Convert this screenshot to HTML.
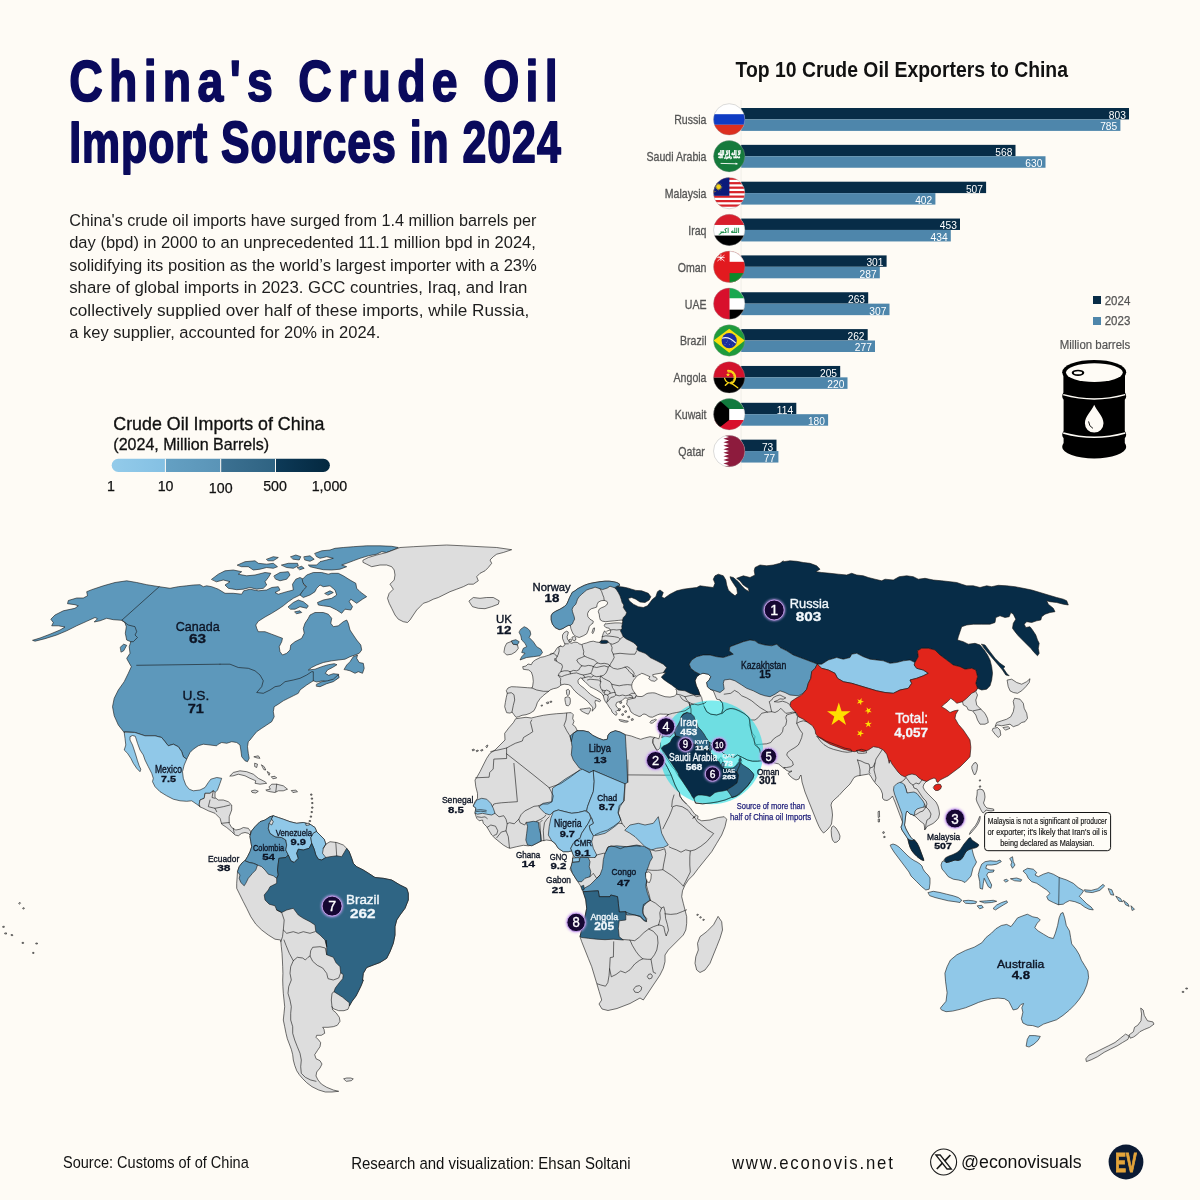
<!DOCTYPE html>
<html lang="en">
<head>
<meta charset="utf-8">
<title>China's Crude Oil Import Sources in 2024</title>
<style>
html,body{margin:0;padding:0;background:#fefbf5;}
body{width:1200px;height:1200px;overflow:hidden;font-family:"Liberation Sans", sans-serif;}
svg{display:block;font-family:"Liberation Sans", sans-serif;}
</style>
</head>
<body>
<svg width="1200" height="1200" viewBox="0 0 1200 1200">
<rect width="1200" height="1200" fill="#fefbf5"/>
<g id="title">
<text transform="translate(69.2 100.8) scale(0.8 1)" font-size="58" fill="#0a0a5c" font-weight="bold" textLength="610.6" lengthAdjust="spacing" stroke="#0a0a5c" stroke-width="1.7" stroke-linejoin="round">China's Crude Oil</text>
<text transform="translate(69.2 162.0) scale(0.75 1)" font-size="57" fill="#0a0a5c" font-weight="bold" textLength="655.3" lengthAdjust="spacing" stroke="#0a0a5c" stroke-width="1.9" stroke-linejoin="round">Import Sources in 2024</text>
</g>
<g id="intro">
<text x="69.2" y="225.8" font-size="17.2" fill="#1d1d1d" textLength="467.2" lengthAdjust="spacingAndGlyphs">China's crude oil imports have surged from 1.4 million barrels per</text>
<text x="69.2" y="248.3" font-size="17.2" fill="#1d1d1d" textLength="466.7" lengthAdjust="spacingAndGlyphs">day (bpd) in 2000 to an unprecedented 11.1 million bpd in 2024,</text>
<text x="69.2" y="270.8" font-size="17.2" fill="#1d1d1d" textLength="467.7" lengthAdjust="spacingAndGlyphs">solidifying its position as the world’s largest importer with a 23%</text>
<text x="69.2" y="293.4" font-size="17.2" fill="#1d1d1d" textLength="458.2" lengthAdjust="spacingAndGlyphs">share of global imports in 2023. GCC countries, Iraq, and Iran</text>
<text x="69.2" y="315.9" font-size="17.2" fill="#1d1d1d" textLength="460.2" lengthAdjust="spacingAndGlyphs">collectively supplied over half of these imports, while Russia,</text>
<text x="69.2" y="338.4" font-size="17.2" fill="#1d1d1d" textLength="311.2" lengthAdjust="spacingAndGlyphs">a key supplier, accounted for 20% in 2024.</text>
</g>
<g id="legend">
<text x="113.3" y="430.3" font-size="18.4" fill="#111" textLength="211.2" lengthAdjust="spacingAndGlyphs" stroke="#111" stroke-width="0.35">Crude Oil Imports of China</text>
<text x="113.3" y="449.7" font-size="16.6" fill="#111" textLength="155.9" lengthAdjust="spacingAndGlyphs" stroke="#111" stroke-width="0.3">(2024, Million Barrels)</text>
<defs><clipPath id="lgclip"><rect x="111.7" y="458.8" width="218.2" height="13.1" rx="6.55"/></clipPath><linearGradient id="lg1"><stop offset="0" stop-color="#93cbea"/><stop offset="1" stop-color="#84c0e3"/></linearGradient><linearGradient id="lg2"><stop offset="0" stop-color="#64a0c3"/><stop offset="1" stop-color="#5a94b7"/></linearGradient><linearGradient id="lg3"><stop offset="0" stop-color="#3c7192"/><stop offset="1" stop-color="#2f6382"/></linearGradient><linearGradient id="lg4"><stop offset="0" stop-color="#0d3a58"/><stop offset="1" stop-color="#04283f"/></linearGradient></defs>
<g clip-path="url(#lgclip)"><rect x="111" y="458" width="54.4" height="15" fill="url(#lg1)"/><rect x="165.4" y="458" width="55.3" height="15" fill="url(#lg2)"/><rect x="220.7" y="458" width="54.8" height="15" fill="url(#lg3)"/><rect x="275.5" y="458" width="55" height="15" fill="url(#lg4)"/><rect x="164.9" y="458" width="1" height="15" fill="#fefbf5"/><rect x="220.2" y="458" width="1" height="15" fill="#fefbf5"/><rect x="275" y="458" width="1" height="15" fill="#fefbf5"/></g>
<text x="111.0" y="491.0" font-size="14.2" fill="#111" text-anchor="middle" stroke="#111" stroke-width="0.25">1</text>
<text x="165.6" y="491.0" font-size="14.2" fill="#111" text-anchor="middle" stroke="#111" stroke-width="0.25">10</text>
<text x="220.7" y="493.3" font-size="14.2" fill="#111" text-anchor="middle" stroke="#111" stroke-width="0.25">100</text>
<text x="275.0" y="491.0" font-size="14.2" fill="#111" text-anchor="middle" stroke="#111" stroke-width="0.25">500</text>
<text x="329.5" y="491.0" font-size="14.2" fill="#111" text-anchor="middle" stroke="#111" stroke-width="0.25">1,000</text>
</g>
<g id="chart">
<text x="735.5" y="77.0" font-size="21.6" fill="#111" font-weight="bold" textLength="332.5" lengthAdjust="spacingAndGlyphs">Top 10 Crude Oil Exporters to China</text>
<rect x="740.6" y="100" width="1" height="370" fill="#f1eee8"/>
<rect x="741.2" y="108.00" width="387.8" height="11.4" fill="#072c47"/>
<rect x="741.2" y="119.40" width="379.2" height="11.5" fill="#4e86ab"/>
<text transform="translate(1125.8 118.8) scale(0.88 1)" font-size="11.6" fill="#fff" text-anchor="end">803</text>
<text transform="translate(1117.2 130.3) scale(0.88 1)" font-size="11.6" fill="#fff" text-anchor="end">785</text>
<text transform="translate(706.5 124.3) scale(0.84 1)" font-size="12.6" fill="#555" text-anchor="end" stroke="#555" stroke-width="0.3">Russia</text>
<clipPath id="fc1"><circle cx="729.2" cy="119.40" r="15.7"/></clipPath><g clip-path="url(#fc1)"><rect x="712.50" y="102.70" width="33.40" height="33.40" fill="#ffffff"/><rect x="712.50" y="114.20" width="33.40" height="10.60" fill="#0f3cc4"/><rect x="712.50" y="124.80" width="33.40" height="15.70" fill="#dd2f1f"/></g><circle cx="729.2" cy="119.40" r="15.7" fill="none" stroke="#9a9a9a" stroke-width="0.5" opacity="0.7"/>
<rect x="741.2" y="144.85" width="274.3" height="11.4" fill="#072c47"/>
<rect x="741.2" y="156.25" width="304.3" height="11.5" fill="#4e86ab"/>
<text transform="translate(1012.3 155.7) scale(0.88 1)" font-size="11.6" fill="#fff" text-anchor="end">568</text>
<text transform="translate(1042.3 167.2) scale(0.88 1)" font-size="11.6" fill="#fff" text-anchor="end">630</text>
<text transform="translate(706.5 161.2) scale(0.84 1)" font-size="12.6" fill="#555" text-anchor="end" stroke="#555" stroke-width="0.3">Saudi Arabia</text>
<clipPath id="fc2"><circle cx="729.2" cy="156.25" r="15.7"/></clipPath><g clip-path="url(#fc2)"><rect x="712.50" y="139.55" width="33.40" height="33.40" fill="#157a3c"/><text x="729.2" y="154.7" font-family="'DejaVu Sans',sans-serif" font-size="6.2" font-weight="bold" fill="#fff" text-anchor="middle" textLength="23" lengthAdjust="spacingAndGlyphs" direction="rtl" stroke="#fff" stroke-width="0.5">لا إله إلا الله</text><text x="729.2" y="158.2" font-family="'DejaVu Sans',sans-serif" font-size="4.2" font-weight="bold" fill="#fff" text-anchor="middle" textLength="22" lengthAdjust="spacingAndGlyphs" direction="rtl" stroke="#fff" stroke-width="0.4">محمد رسول الله</text><path d="M720.6 163.4 L736.4 163.8" stroke="#fff" stroke-width="0.9" fill="none"/><path d="M735.6 162.6 L738.2 164.1 L735.6 164.8Z" fill="#fff"/></g><circle cx="729.2" cy="156.25" r="15.7" fill="none" stroke="#9a9a9a" stroke-width="0.5" opacity="0.7"/>
<rect x="741.2" y="181.70" width="244.9" height="11.4" fill="#072c47"/>
<rect x="741.2" y="193.10" width="194.2" height="11.5" fill="#4e86ab"/>
<text transform="translate(982.9 192.5) scale(0.88 1)" font-size="11.6" fill="#fff" text-anchor="end">507</text>
<text transform="translate(932.2 204.0) scale(0.88 1)" font-size="11.6" fill="#fff" text-anchor="end">402</text>
<text transform="translate(706.5 198.0) scale(0.84 1)" font-size="12.6" fill="#555" text-anchor="end" stroke="#555" stroke-width="0.3">Malaysia</text>
<clipPath id="fc3"><circle cx="729.2" cy="193.10" r="15.7"/></clipPath><g clip-path="url(#fc3)"><rect x="712.50" y="176.40" width="33.40" height="33.40" fill="#ffffff"/><rect x="712.50" y="177.60" width="33.40" height="2.24" fill="#d8232a"/><rect x="712.50" y="182.08" width="33.40" height="2.24" fill="#d8232a"/><rect x="712.50" y="186.56" width="33.40" height="2.24" fill="#d8232a"/><rect x="712.50" y="191.04" width="33.40" height="2.24" fill="#d8232a"/><rect x="712.50" y="195.52" width="33.40" height="2.24" fill="#d8232a"/><rect x="712.50" y="200.00" width="33.40" height="2.24" fill="#d8232a"/><rect x="712.50" y="204.48" width="33.40" height="2.24" fill="#d8232a"/><rect x="712.50" y="208.96" width="33.40" height="2.24" fill="#d8232a"/><rect x="712.50" y="176.40" width="16.90" height="19.40" fill="#0b1a7a"/><circle cx="712.7" cy="186.8" r="5.6" fill="#f7d417"/><circle cx="714.3" cy="186.8" r="4.9" fill="#0b1a7a"/><polygon points="718.60,182.70 719.02,184.95 720.38,183.11 719.78,185.31 721.81,184.24 720.31,185.98 722.60,185.89 720.50,186.80 722.60,187.71 720.31,187.62 721.81,189.36 719.78,188.29 720.38,190.49 719.02,188.65 718.60,190.90 718.18,188.65 716.82,190.49 717.42,188.29 715.39,189.36 716.89,187.62 714.60,187.71 716.70,186.80 714.60,185.89 716.89,185.98 715.39,184.24 717.42,185.31 716.82,183.11 718.18,184.95" fill="#f7d417"/></g><circle cx="729.2" cy="193.10" r="15.7" fill="none" stroke="#9a9a9a" stroke-width="0.5" opacity="0.7"/>
<rect x="741.2" y="218.55" width="218.8" height="11.4" fill="#072c47"/>
<rect x="741.2" y="229.95" width="209.6" height="11.5" fill="#4e86ab"/>
<text transform="translate(956.8 229.4) scale(0.88 1)" font-size="11.6" fill="#fff" text-anchor="end">453</text>
<text transform="translate(947.6 240.9) scale(0.88 1)" font-size="11.6" fill="#fff" text-anchor="end">434</text>
<text transform="translate(706.5 234.9) scale(0.84 1)" font-size="12.6" fill="#555" text-anchor="end" stroke="#555" stroke-width="0.3">Iraq</text>
<clipPath id="fc4"><circle cx="729.2" cy="229.95" r="15.7"/></clipPath><g clip-path="url(#fc4)"><rect x="712.50" y="213.25" width="33.40" height="33.40" fill="#ffffff"/><rect x="712.50" y="213.25" width="33.40" height="11.70" fill="#d81e2c"/><rect x="712.50" y="235.55" width="33.40" height="15.70" fill="#000000"/><text x="729.2" y="232.7" font-family="'DejaVu Sans',sans-serif" font-size="7" font-weight="bold" fill="#168a42" text-anchor="middle" textLength="20.5" lengthAdjust="spacingAndGlyphs" direction="rtl">الله اكبر</text></g><circle cx="729.2" cy="229.95" r="15.7" fill="none" stroke="#9a9a9a" stroke-width="0.5" opacity="0.7"/>
<rect x="741.2" y="255.40" width="145.4" height="11.4" fill="#072c47"/>
<rect x="741.2" y="266.80" width="138.6" height="11.5" fill="#4e86ab"/>
<text transform="translate(883.4 266.2) scale(0.88 1)" font-size="11.6" fill="#fff" text-anchor="end">301</text>
<text transform="translate(876.6 277.7) scale(0.88 1)" font-size="11.6" fill="#fff" text-anchor="end">287</text>
<text transform="translate(706.5 271.7) scale(0.84 1)" font-size="12.6" fill="#555" text-anchor="end" stroke="#555" stroke-width="0.3">Oman</text>
<clipPath id="fc5"><circle cx="729.2" cy="266.80" r="15.7"/></clipPath><g clip-path="url(#fc5)"><rect x="712.50" y="250.10" width="33.40" height="33.40" fill="#e21a1f"/><rect x="729.60" y="250.10" width="16.70" height="11.70" fill="#ffffff"/><rect x="729.60" y="273.10" width="16.70" height="15.70" fill="#0a8a2a"/><g stroke="#fff" stroke-width="0.8" fill="none" stroke-linecap="round"><path d="M717.7 260.8 L724.1 255.4"/><path d="M724.1 260.8 L717.7 255.4"/><path d="M717.5 257.6 L724.3 257.6"/><path d="M720.9 254.8 L720.9 260.4"/></g></g><circle cx="729.2" cy="266.80" r="15.7" fill="none" stroke="#9a9a9a" stroke-width="0.5" opacity="0.7"/>
<rect x="741.2" y="292.25" width="127.0" height="11.4" fill="#072c47"/>
<rect x="741.2" y="303.65" width="148.3" height="11.5" fill="#4e86ab"/>
<text transform="translate(865.0 303.0) scale(0.88 1)" font-size="11.6" fill="#fff" text-anchor="end">263</text>
<text transform="translate(886.3 314.5) scale(0.88 1)" font-size="11.6" fill="#fff" text-anchor="end">307</text>
<text transform="translate(706.5 308.5) scale(0.84 1)" font-size="12.6" fill="#555" text-anchor="end" stroke="#555" stroke-width="0.3">UAE</text>
<clipPath id="fc6"><circle cx="729.2" cy="303.65" r="15.7"/></clipPath><g clip-path="url(#fc6)"><rect x="712.50" y="286.95" width="33.40" height="33.40" fill="#ffffff"/><rect x="729.20" y="286.95" width="16.70" height="11.30" fill="#19a84f"/><rect x="729.20" y="309.65" width="16.70" height="15.70" fill="#000000"/><rect x="712.50" y="286.95" width="17.00" height="33.40" fill="#d8102c"/></g><circle cx="729.2" cy="303.65" r="15.7" fill="none" stroke="#9a9a9a" stroke-width="0.5" opacity="0.7"/>
<rect x="741.2" y="329.10" width="126.5" height="11.4" fill="#072c47"/>
<rect x="741.2" y="340.50" width="133.8" height="11.5" fill="#4e86ab"/>
<text transform="translate(864.5 339.9) scale(0.88 1)" font-size="11.6" fill="#fff" text-anchor="end">262</text>
<text transform="translate(871.8 351.4) scale(0.88 1)" font-size="11.6" fill="#fff" text-anchor="end">277</text>
<text transform="translate(706.5 345.4) scale(0.84 1)" font-size="12.6" fill="#555" text-anchor="end" stroke="#555" stroke-width="0.3">Brazil</text>
<clipPath id="fc7"><circle cx="729.2" cy="340.50" r="15.7"/></clipPath><g clip-path="url(#fc7)"><rect x="712.50" y="323.80" width="33.40" height="33.40" fill="#1f9b3c"/><polygon points="713.6,340.5 729.2,328.7 744.8,340.5 729.2,352.7" fill="#fadf0c"/><circle cx="729.2" cy="340.7" r="7.6" fill="#1c2f9e"/><path d="M722.0 338.3 Q728.7 335.9 735.8 343.1" stroke="#e9eef7" stroke-width="1.2" fill="none"/><circle cx="726.2" cy="342.7" r="0.35" fill="#cfd8f5"/><circle cx="729.7" cy="344.3" r="0.35" fill="#cfd8f5"/><circle cx="732.0" cy="341.5" r="0.35" fill="#cfd8f5"/><circle cx="727.7" cy="340.9" r="0.35" fill="#cfd8f5"/><circle cx="725.0" cy="344.7" r="0.35" fill="#cfd8f5"/><circle cx="732.7" cy="345.0" r="0.35" fill="#cfd8f5"/></g><circle cx="729.2" cy="340.50" r="15.7" fill="none" stroke="#9a9a9a" stroke-width="0.5" opacity="0.7"/>
<rect x="741.2" y="365.95" width="99.0" height="11.4" fill="#072c47"/>
<rect x="741.2" y="377.35" width="106.3" height="11.5" fill="#4e86ab"/>
<text transform="translate(837.0 376.8) scale(0.88 1)" font-size="11.6" fill="#fff" text-anchor="end">205</text>
<text transform="translate(844.3 388.2) scale(0.88 1)" font-size="11.6" fill="#fff" text-anchor="end">220</text>
<text transform="translate(706.5 382.2) scale(0.84 1)" font-size="12.6" fill="#555" text-anchor="end" stroke="#555" stroke-width="0.3">Angola</text>
<clipPath id="fc8"><circle cx="729.2" cy="377.35" r="15.7"/></clipPath><g clip-path="url(#fc8)"><rect x="712.50" y="360.65" width="33.40" height="17.00" fill="#d3122c"/><rect x="712.50" y="377.65" width="33.40" height="16.70" fill="#000000"/><g fill="none" stroke="#f9d616" stroke-linecap="round"><path d="M728.0 370.8 A6.6 6.6 0 0 1 730.8 383.6" stroke-width="1.9" stroke-dasharray="1.5 0.6"/><path d="M728.2 372.0 A5.4 5.4 0 0 1 730.4 382.5" stroke-width="0.9" stroke="#f9d616"/><path d="M724.6 378.4 Q725.8 383.0 731.4 383.2 L737.8 387.8" stroke-width="1.3"/><path d="M725.4 385.2 L728.2 382.8" stroke-width="1.5"/></g><polygon points="728.00,372.45 728.52,374.04 730.19,374.04 728.84,375.02 729.35,376.61 728.00,375.63 726.65,376.61 727.16,375.02 725.81,374.04 727.48,374.04" fill="#f9d616"/></g><circle cx="729.2" cy="377.35" r="15.7" fill="none" stroke="#9a9a9a" stroke-width="0.5" opacity="0.7"/>
<rect x="741.2" y="402.80" width="55.1" height="11.4" fill="#072c47"/>
<rect x="741.2" y="414.20" width="86.9" height="11.5" fill="#4e86ab"/>
<text transform="translate(793.1 413.6) scale(0.88 1)" font-size="11.6" fill="#fff" text-anchor="end">114</text>
<text transform="translate(824.9 425.1) scale(0.88 1)" font-size="11.6" fill="#fff" text-anchor="end">180</text>
<text transform="translate(706.5 419.1) scale(0.84 1)" font-size="12.6" fill="#555" text-anchor="end" stroke="#555" stroke-width="0.3">Kuwait</text>
<clipPath id="fc9"><circle cx="729.2" cy="414.20" r="15.7"/></clipPath><g clip-path="url(#fc9)"><rect x="712.50" y="397.50" width="33.40" height="33.40" fill="#ffffff"/><rect x="712.50" y="397.50" width="33.40" height="11.50" fill="#117a3d"/><rect x="712.50" y="420.00" width="33.40" height="15.70" fill="#d8102c"/><polygon points="712.5,397.5 719.0,397.5 719.0,400.0 729.2,409.0 729.2,420.0 719.2,427.8 719.2,430.9 712.5,430.9" fill="#000"/></g><circle cx="729.2" cy="414.20" r="15.7" fill="none" stroke="#9a9a9a" stroke-width="0.5" opacity="0.7"/>
<rect x="741.2" y="439.65" width="35.3" height="11.4" fill="#072c47"/>
<rect x="741.2" y="451.05" width="37.2" height="11.5" fill="#4e86ab"/>
<text transform="translate(773.3 450.5) scale(0.88 1)" font-size="11.6" fill="#fff" text-anchor="end">73</text>
<text transform="translate(775.2 462.0) scale(0.88 1)" font-size="11.6" fill="#fff" text-anchor="end">77</text>
<text transform="translate(704.8 456.0) scale(0.84 1)" font-size="12.6" fill="#555" text-anchor="end" stroke="#555" stroke-width="0.3">Qatar</text>
<clipPath id="fc10"><circle cx="729.2" cy="451.05" r="15.7"/></clipPath><g clip-path="url(#fc10)"><rect x="712.50" y="434.35" width="33.40" height="33.40" fill="#ffffff"/><polygon points="745.9,435.15 723.4,435.15 729.0,436.92 723.4,438.68 729.0,440.45 723.4,442.22 729.0,443.98 723.4,445.75 729.0,447.52 723.4,449.28 729.0,451.05 723.4,452.82 729.0,454.58 723.4,456.35 729.0,458.12 723.4,459.88 729.0,461.65 723.4,463.42 729.0,465.18 723.4,466.95 745.9,466.95" fill="#8d1b3d"/></g><circle cx="729.2" cy="451.05" r="15.7" fill="none" stroke="#9a9a9a" stroke-width="0.5" opacity="0.7"/>
<rect x="1093" y="296" width="8" height="8" fill="#072c47"/>
<rect x="1093" y="317" width="8" height="8" fill="#4e86ab"/>
<text x="1104.7" y="304.7" font-size="12" fill="#555" textLength="25.6" lengthAdjust="spacingAndGlyphs" stroke="#555" stroke-width="0.25">2024</text>
<text x="1104.7" y="325.4" font-size="12" fill="#555" textLength="25.6" lengthAdjust="spacingAndGlyphs" stroke="#555" stroke-width="0.25">2023</text>
<text x="1059.7" y="349.0" font-size="12.6" fill="#555" textLength="70.6" lengthAdjust="spacingAndGlyphs" stroke="#555" stroke-width="0.2">Million barrels</text>
<g id="barrel"><path d="M1063.4 372 L1063.4 392.5 Q1062.2 394.5 1062.2 396.2 Q1062.2 398 1063.6 399.8 L1063.6 431 Q1062.2 433 1062.2 434.8 Q1062.2 436.6 1063.6 438.3 L1063.6 443 Q1062.2 445 1062.2 447 A32 11.4 0 0 0 1126.2 447 Q1126.2 445 1124.8 443 L1124.8 438.3 Q1126.2 436.6 1126.2 434.8 Q1126.2 433 1124.8 431 L1124.8 399.8 Q1126.2 398 1126.2 396.2 Q1126.2 394.5 1125 392.5 L1125 372 Z" fill="#000"/><ellipse cx="1094.2" cy="372.2" rx="32" ry="12.3" fill="#000"/><ellipse cx="1094.4" cy="372.6" rx="28.4" ry="9.3" fill="#fefbf5"/><ellipse cx="1078" cy="372.8" rx="6.3" ry="3.1" fill="#000"/><ellipse cx="1078" cy="372.8" rx="4.1" ry="1.5" fill="#fefbf5"/><path d="M1063.2 394.6 Q1094.2 403.2 1125.2 394.6" fill="none" stroke="#fefbf5" stroke-width="1.5"/><path d="M1063.2 433.0 Q1094.2 441.6 1125.2 433.0" fill="none" stroke="#fefbf5" stroke-width="1.5"/><path d="M1094.2 404.8 C1096.7 411 1103.5 416.5 1103.5 423.3 A9.3 9.3 0 0 1 1084.9 423.3 C1084.9 416.5 1091.7 411 1094.2 404.8 Z" fill="#fefbf5"/><path d="M1088.6000000000001 421.8 Q1089.0 426.6 1092.6000000000001 428.2" fill="none" stroke="#000" stroke-width="0.9" stroke-linecap="round"/></g>
</g>
<g id="map" stroke-linejoin="round" stroke-linecap="round">
<path d="M124.2 732.5L118.3 725.0L114.2 715.8L112.5 706.7L114.2 698.3L118.3 690.0L124.2 681.7L128.3 673.3L131.3 666.7L127.5 660.0L126.7 658.3L130.0 653.3L129.2 646.7L130.8 641.7L126.7 640.0L125.3 633.3L126.3 626.7L124.7 622.0L121.7 620.3L113.3 619.7L106.7 618.3L100.0 620.8L94.2 622.0L97.5 618.7L95.0 617.5L86.7 621.3L76.7 625.8L66.7 630.8L56.7 635.0L45.0 638.7L35.0 641.2L32.5 640.3L40.0 638.0L50.0 634.2L60.0 630.0L65.0 627.0L58.3 625.8L51.7 625.8L53.3 622.5L50.8 619.2L55.0 615.0L63.3 610.8L75.0 608.3L78.3 605.8L75.0 604.7L67.5 603.7L68.3 600.5L76.7 598.0L83.3 598.0L87.5 595.8L86.7 591.7L91.7 589.7L103.3 585.8L115.0 582.5L126.7 580.8L136.7 582.5L146.7 584.7L159.2 586.7L170.0 588.3L178.3 586.7L186.7 585.8L193.3 585.0L200.0 584.7L203.3 586.7L206.7 585.8L211.7 586.7L218.3 589.2L225.0 593.3L233.3 593.3L241.7 594.2L243.7 590.8L250.0 589.2L258.3 590.8L266.7 590.0L271.7 587.5L278.3 586.7L280.0 590.0L275.0 592.5L278.3 594.2L286.7 591.7L293.3 590.0L292.5 584.2L295.8 579.2L300.0 577.5L305.0 580.0L303.3 584.2L306.7 587.5L303.3 590.8L300.0 595.0L293.3 598.3L288.3 601.7L283.3 605.8L278.3 609.2L271.7 613.3L265.0 617.0L258.3 621.3L255.8 625.0L256.7 628.3L258.3 631.7L265.0 631.7L271.7 634.2L278.3 636.7L282.5 638.3L281.7 641.7L279.2 646.7L280.0 651.7L282.5 655.0L286.7 653.3L290.0 650.0L290.8 645.0L295.0 641.7L301.7 638.3L304.2 633.3L303.3 628.3L305.0 623.3L308.3 618.3L310.0 615.0L315.0 612.5L323.3 612.5L328.3 614.2L331.7 618.3L330.8 623.3L333.3 626.7L338.3 625.8L343.3 621.7L346.7 620.0L348.3 623.3L350.0 630.0L353.3 635.0L356.7 640.0L360.8 645.0L361.7 650.0L359.2 653.3L355.0 655.0L350.0 656.7L345.0 659.2L338.3 660.0L331.7 660.8L323.3 662.5L316.7 665.0L311.7 667.5L308.3 670.0L315.0 669.2L321.7 666.7L328.3 664.7L334.2 663.7L337.0 664.7L332.5 667.5L327.5 670.0L325.3 673.3L328.7 675.3L333.3 673.7L338.7 674.3L337.7 678.3L332.0 680.8L326.7 681.7L322.5 680.8L316.7 682.0L313.3 680.8L306.7 685.0L300.0 690.0L298.3 693.3L293.3 695.8L288.3 698.3L283.3 700.8L278.3 704.2L274.2 706.7L273.3 711.7L274.2 716.7L271.7 721.7L266.7 725.0L261.7 728.3L256.7 731.7L253.3 735.8L250.0 740.0L248.3 741.7L247.5 746.7L248.3 753.3L249.2 758.3L247.5 761.7L245.0 760.8L241.7 756.7L240.8 750.0L240.0 745.0L236.7 742.5L231.7 741.7L226.7 743.3L221.7 742.5L218.3 744.2L216.7 745.8L210.0 745.0L203.3 744.2L198.3 745.8L193.3 749.2L190.0 752.5L187.5 757.5L186.7 759.2L183.3 756.7L181.7 751.7L178.3 746.7L173.3 744.2L168.3 745.8L165.0 741.7L161.7 737.5L155.0 735.8L145.0 735.8L135.0 732.5L125.0 731.7Z" fill="#5d98bb" fill-rule="nonzero" stroke="#141414" stroke-width="0.6"/>
<path d="M124.2 732.5L125.0 738.3L125.8 745.0L124.2 750.0L127.5 753.3L130.8 758.3L133.3 763.3L136.7 768.3L140.0 771.7L140.8 769.2L139.2 765.8L137.5 760.8L135.8 755.0L134.2 750.0L132.5 745.0L130.0 740.0L130.0 736.7L132.5 735.5L135.3 736.3L137.5 743.3L140.0 750.0L143.3 755.0L145.0 760.0L148.3 766.7L151.7 773.3L153.3 778.3L152.5 781.7L155.0 786.7L160.0 791.7L166.7 795.8L173.3 799.2L180.0 800.8L186.7 801.3L191.7 800.8L196.7 804.2L200.0 806.7L199.2 804.2L200.0 800.0L204.2 798.3L205.0 793.3L210.0 793.3L213.3 790.8L215.0 792.5L217.5 790.0L220.0 783.3L221.7 778.3L216.7 777.5L210.8 779.2L208.3 782.5L205.0 787.5L200.0 790.0L193.3 790.8L189.2 789.2L185.8 785.0L183.3 778.3L182.5 771.7L184.2 765.0L186.7 759.2L183.3 756.7L181.7 751.7L178.3 746.7L173.3 744.2L168.3 745.8L165.0 741.7L161.7 737.5L155.0 735.8L145.0 735.8L135.0 732.5Z" fill="#90c8e8" fill-rule="nonzero" stroke="#141414" stroke-width="0.6"/>
<path d="M200.0 806.7L199.2 804.2L200.0 800.0L204.2 798.3L205.0 793.3L210.0 793.3L213.3 790.8L215.0 792.5L215.0 797.5L218.3 800.0L223.3 800.0L228.3 801.7L231.7 805.0L231.7 810.0L229.2 816.7L229.2 823.3L231.7 827.5L235.8 830.0L240.0 829.2L243.3 827.5L248.3 828.3L250.8 831.7L250.0 835.0L248.3 833.3L245.0 832.5L241.7 833.3L238.3 835.8L235.0 835.0L231.7 831.7L226.7 827.5L221.7 824.2L220.0 818.3L215.0 813.3L208.3 810.8L203.3 808.3Z" fill="#dddddd" fill-rule="nonzero" stroke="#141414" stroke-width="0.6"/>
<path d="M213.3 790.8L212.0 797.5L215.0 798.3" fill="none" stroke="#141414" stroke-width="0.6"/>
<path d="M210.0 800.0L208.3 806.7L215.0 808.3L216.7 811.7" fill="none" stroke="#141414" stroke-width="0.6"/>
<path d="M215.0 808.3L223.3 806.7L230.0 805.0" fill="none" stroke="#141414" stroke-width="0.6"/>
<path d="M221.7 823.3L229.2 822.5" fill="none" stroke="#141414" stroke-width="0.6"/>
<path d="M233.3 828.3L234.2 833.3" fill="none" stroke="#141414" stroke-width="0.6"/>
<path d="M230.0 775.8L233.3 772.5L240.0 770.8L246.7 771.7L253.3 774.2L258.3 778.3L265.0 781.7L266.7 783.3L260.0 784.2L255.0 783.3L255.8 780.8L250.0 778.3L245.0 775.8L238.3 774.2L233.3 775.8Z" fill="#dddddd" fill-rule="nonzero" stroke="#141414" stroke-width="0.6"/>
<path d="M269.2 786.7L271.7 784.2L276.7 784.2L283.3 785.8L287.5 789.2L283.3 790.8L278.3 790.8L275.0 792.5L270.0 791.7L266.7 790.8L265.8 790.0L270.0 789.2Z" fill="#dddddd" fill-rule="nonzero" stroke="#141414" stroke-width="0.6"/>
<path d="M276.7 784.2L275.8 791.7" fill="none" stroke="#141414" stroke-width="0.6"/>
<path d="M251.7 790.8L255.0 790.0L258.3 791.3L255.8 793.0L252.5 792.5Z" fill="#dddddd" fill-rule="nonzero" stroke="#141414" stroke-width="0.6"/>
<path d="M291.7 790.5L295.8 790.2L297.5 791.7L293.3 792.5Z" fill="#dddddd" fill-rule="nonzero" stroke="#141414" stroke-width="0.6"/>
<path d="M254.2 756.7L258.3 755.8L260.0 758.3L257.5 758.0Z" fill="#dddddd" fill-rule="nonzero" stroke="#141414" stroke-width="0.6"/>
<path d="M255.0 763.3L257.5 764.2L256.7 767.5L255.0 766.7Z" fill="#dddddd" fill-rule="nonzero" stroke="#141414" stroke-width="0.6"/>
<path d="M261.7 765.0L264.2 766.7L265.8 770.0L264.2 769.7Z" fill="#dddddd" fill-rule="nonzero" stroke="#141414" stroke-width="0.6"/>
<path d="M267.5 771.7L270.0 773.3L269.2 775.0Z" fill="#dddddd" fill-rule="nonzero" stroke="#141414" stroke-width="0.6"/>
<path d="M271.7 776.7L275.0 776.3L276.7 778.0L273.3 778.7Z" fill="#dddddd" fill-rule="nonzero" stroke="#141414" stroke-width="0.6"/>
<path d="M211.7 579.2L218.3 574.2L225.0 570.8L233.3 570.0L241.7 571.7L238.3 574.2L246.7 575.8L255.0 575.0L265.0 572.5L270.8 573.3L268.3 577.5L265.0 581.7L266.7 585.0L263.3 588.3L256.7 589.2L250.0 587.5L243.3 589.2L236.7 589.7L228.3 588.3L225.0 585.0L230.0 581.7L223.3 580.0L216.7 581.7Z" fill="#5d98bb" fill-rule="nonzero" stroke="#141414" stroke-width="0.6"/>
<path d="M237.5 565.0L245.0 561.7L255.0 560.8L258.3 563.3L266.7 564.2L273.3 563.3L277.5 566.7L273.3 568.3L266.7 567.5L260.0 569.2L253.3 570.0L248.3 566.7L241.7 566.7Z" fill="#5d98bb" fill-rule="nonzero" stroke="#141414" stroke-width="0.6"/>
<path d="M266.7 559.2L273.3 556.7L278.3 557.5L273.3 560.8L268.3 560.8Z" fill="#5d98bb" fill-rule="nonzero" stroke="#141414" stroke-width="0.6"/>
<path d="M290.8 556.7L295.8 555.0L300.8 556.7L299.2 560.0L293.3 559.2Z" fill="#5d98bb" fill-rule="nonzero" stroke="#141414" stroke-width="0.6"/>
<path d="M281.7 565.0L288.3 563.3L297.5 563.3L298.3 565.8L293.3 568.3L286.7 567.5Z" fill="#5d98bb" fill-rule="nonzero" stroke="#141414" stroke-width="0.6"/>
<path d="M304.2 556.7L310.0 555.8L314.2 559.2L310.0 561.3L305.0 560.0Z" fill="#5d98bb" fill-rule="nonzero" stroke="#141414" stroke-width="0.6"/>
<path d="M297.5 567.5L301.7 566.3L304.2 568.3L300.0 569.7Z" fill="#5d98bb" fill-rule="nonzero" stroke="#141414" stroke-width="0.6"/>
<path d="M315.0 553.3L321.7 550.8L330.0 550.0L335.0 548.3L343.3 547.5L353.3 546.7L366.7 545.8L380.0 545.8L391.7 546.3L398.3 547.5L393.3 550.0L386.7 552.5L381.7 551.7L376.7 554.2L368.3 555.8L360.0 558.3L353.3 560.8L346.7 563.3L341.7 565.0L346.7 566.7L340.0 569.2L331.7 570.0L323.3 569.7L316.7 568.3L310.0 566.7L308.3 565.0L316.7 565.0L320.0 561.7L326.7 560.0L333.3 558.3L326.7 556.7L320.0 558.3L316.7 556.7Z" fill="#5d98bb" fill-rule="nonzero" stroke="#141414" stroke-width="0.6"/>
<path d="M302.5 579.2L306.7 575.0L313.3 572.5L321.7 572.5L328.3 574.2L331.7 573.3L338.3 573.3L343.3 575.8L350.0 580.0L355.8 583.3L356.7 588.3L360.0 591.7L366.7 596.7L362.5 599.2L356.7 603.3L350.8 599.2L349.2 601.7L352.5 606.7L350.8 610.0L345.0 609.2L341.7 613.3L336.7 610.0L330.0 606.7L323.3 605.8L318.3 605.0L317.5 602.5L323.3 600.0L331.7 598.3L336.7 595.0L335.0 590.0L330.0 585.8L323.3 586.7L320.0 585.0L316.7 588.3L315.0 591.7L310.0 595.0L303.3 597.5L300.0 595.0L303.3 590.0L306.7 586.7L303.3 583.3Z" fill="#5d98bb" fill-rule="nonzero" stroke="#141414" stroke-width="0.6"/>
<path d="M274.2 575.8L280.0 572.5L288.3 571.7L290.0 575.0L286.7 579.2L280.0 580.8L275.8 579.2Z" fill="#5d98bb" fill-rule="nonzero" stroke="#141414" stroke-width="0.6"/>
<path d="M288.3 606.7L293.3 602.5L298.3 600.0L303.3 601.7L308.3 605.8L306.7 608.3L300.0 606.7L295.0 609.2L290.8 609.2Z" fill="#5d98bb" fill-rule="nonzero" stroke="#141414" stroke-width="0.6"/>
<path d="M295.0 611.7L300.0 610.8L301.7 612.5L296.7 613.7Z" fill="#5d98bb" fill-rule="nonzero" stroke="#141414" stroke-width="0.6"/>
<path d="M325.0 593.3L330.0 590.8L333.3 592.5L328.3 595.0Z" fill="#5d98bb" fill-rule="nonzero" stroke="#141414" stroke-width="0.6"/>
<path d="M344.2 669.2L346.7 665.0L350.0 661.7L353.3 656.7L357.5 655.0L356.7 658.3L359.2 662.5L363.3 663.3L364.2 668.3L362.5 673.3L358.3 671.7L355.0 673.3L350.0 670.8L346.7 670.0Z" fill="#5d98bb" fill-rule="nonzero" stroke="#141414" stroke-width="0.6"/>
<path d="M316.7 684.2L321.7 681.7L327.5 680.8L333.3 679.2L338.3 674.7L339.2 677.5L333.3 681.7L326.7 683.7L320.0 686.7L316.7 686.3Z" fill="#5d98bb" fill-rule="nonzero" stroke="#141414" stroke-width="0.6"/>
<path d="M120.5 647.0L123.7 644.2L126.7 645.3L123.7 650.8L121.3 652.0Z" fill="#5d98bb" fill-rule="nonzero" stroke="#141414" stroke-width="0.6"/>
<path d="M159.2 586.7L121.7 620.3L128.3 625.0L135.0 626.7L136.7 631.7L135.0 635.0L137.5 637.5L133.3 641.7L130.8 641.7" fill="none" stroke="#141414" stroke-width="0.6"/>
<path d="M136.7 665.3L220.0 664.2" fill="none" stroke="#141414" stroke-width="0.6"/>
<path d="M220.0 664.2L230.0 664.2L238.3 667.5L248.3 668.3L255.0 670.8L260.0 675.0L263.3 680.8L261.7 686.7L256.7 692.5L263.3 693.3L270.0 690.0L275.0 686.7L280.0 685.8L285.0 681.7L293.3 680.0L300.0 678.3L306.7 675.0L311.7 671.7L313.3 671.7L313.3 680.8" fill="none" stroke="#141414" stroke-width="0.6"/>
<path d="M363.3 560.0L368.3 557.5L376.7 555.0L386.7 552.5L400.0 547.5L413.3 546.7L430.0 545.8L446.7 545.0L463.3 545.8L480.0 546.7L496.7 547.5L511.7 549.7L503.3 552.5L496.7 554.2L493.3 556.7L490.0 560.0L491.7 563.3L488.3 567.5L485.0 570.8L480.0 573.3L476.7 576.7L478.3 580.8L473.3 584.2L468.3 584.2L463.3 586.7L456.7 589.2L450.0 591.7L445.0 594.2L438.3 597.5L433.3 599.2L428.3 601.7L423.3 603.3L420.0 606.7L416.7 610.0L413.3 615.0L410.0 620.0L407.5 622.5L403.3 621.7L398.3 619.2L395.0 615.0L391.7 608.3L389.2 603.3L387.5 598.3L389.2 593.3L393.3 589.2L391.7 586.7L390.0 584.2L394.2 580.0L395.0 575.0L394.2 570.0L391.7 566.7L386.7 565.0L380.0 565.0L371.7 566.7L366.7 564.2L363.3 562.5Z" fill="#dddddd" fill-rule="nonzero" stroke="#141414" stroke-width="0.6"/>
<path d="M469.2 600.8L473.3 597.5L480.0 598.3L486.7 597.5L493.3 597.5L499.2 600.8L498.3 604.2L491.7 606.7L485.0 608.7L478.3 608.3L472.5 606.7L470.8 604.2Z" fill="#dddddd" fill-rule="nonzero" stroke="#141414" stroke-width="0.6"/>
<path d="M251.7 830.8L255.0 826.7L260.0 821.7L265.0 820.0L270.0 816.7L273.3 815.8L278.3 817.5L283.3 819.2L290.0 821.7L296.7 823.3L303.3 822.5L310.0 824.2L315.0 827.5L316.7 831.7L320.0 835.0L324.2 839.2L325.8 844.2L330.0 841.7L336.7 842.5L343.3 845.0L346.7 848.3L349.2 851.7L351.7 858.3L353.3 863.3L356.7 866.7L363.3 870.0L370.0 874.2L375.0 877.5L383.3 878.3L391.7 880.0L400.0 885.0L406.7 888.3L408.3 893.3L408.3 900.0L405.0 908.3L400.0 915.0L396.7 920.0L395.0 926.7L395.0 935.0L393.3 943.3L390.0 951.7L386.7 958.3L380.0 962.5L373.3 965.0L366.7 967.5L363.3 973.3L362.5 980.0L363.3 980.0L361.3 985.3L358.7 990.7L356.0 996.0L352.0 1001.3L349.3 1006.0L348.0 1009.3L344.0 1010.7L338.7 1010.7L333.3 1008.7L332.0 1006.7L332.7 1010.0L336.0 1012.7L339.3 1017.3L340.0 1021.3L337.3 1025.3L333.3 1026.7L328.0 1027.3L322.7 1027.3L324.0 1029.3L324.7 1033.3L321.3 1035.3L316.7 1035.3L316.0 1037.3L318.7 1040.0L320.7 1042.7L320.0 1046.7L317.3 1050.7L314.7 1054.7L316.0 1058.7L320.0 1060.7L322.0 1064.0L320.0 1068.0L316.7 1072.0L316.0 1076.0L318.0 1080.0L321.3 1084.0L326.7 1087.3L333.3 1090.0L338.7 1091.3L332.0 1092.0L325.3 1092.0L318.7 1090.0L312.0 1086.7L306.7 1082.7L302.7 1078.7L299.3 1074.7L296.7 1070.7L294.7 1065.3L293.3 1060.0L292.7 1054.7L291.3 1049.3L289.3 1044.0L287.3 1038.7L286.0 1033.3L284.7 1026.7L283.3 1020.0L284.0 1013.3L284.7 1006.7L284.0 1000.0L283.3 993.3L282.9 986.7L282.7 980.0L282.9 973.3L282.7 966.7L282.4 960.0L282.0 953.3L281.3 946.7L280.7 940.0L275.0 939.2L268.3 935.0L261.7 930.0L255.8 924.2L250.8 916.7L246.7 908.3L243.3 901.7L240.0 895.0L236.7 888.3L236.7 883.3L237.5 871.7L239.2 866.7L241.7 863.3L245.0 860.8L247.5 856.7L250.0 851.7L251.7 846.7L250.8 841.7L250.0 836.7Z" fill="#dddddd" fill-rule="nonzero" stroke="#141414" stroke-width="0.6"/>
<path d="M251.7 830.8L255.0 826.7L260.0 821.7L265.0 820.0L270.0 816.7L273.3 815.8L271.7 819.2L269.2 823.3L268.3 828.3L270.0 833.3L275.0 836.7L281.7 837.5L285.8 840.0L286.7 845.0L285.8 850.0L288.3 855.0L285.8 857.5L279.2 858.3L278.3 863.3L277.5 870.0L278.3 875.0L276.7 878.3L273.3 875.8L268.3 874.2L265.0 870.0L261.7 866.7L257.5 865.0L253.3 863.3L249.2 862.5L245.0 860.8L247.5 856.7L250.0 851.7L251.7 846.7L250.8 841.7L250.0 836.7Z" fill="#5d98bb" fill-rule="nonzero" stroke="#141414" stroke-width="0.6"/>
<path d="M245.0 860.8L249.2 862.5L253.3 863.3L257.5 865.0L255.8 870.0L252.5 873.3L248.3 878.3L245.8 883.3L244.2 885.8L240.8 882.5L239.2 878.3L240.0 875.0L237.5 871.7L239.2 866.7L241.7 863.3Z" fill="#5d98bb" fill-rule="nonzero" stroke="#141414" stroke-width="0.6"/>
<path d="M273.3 815.8L278.3 817.5L283.3 819.2L290.0 821.7L296.7 823.3L303.3 822.5L310.0 824.2L315.0 827.5L316.7 831.7L313.3 833.3L310.8 837.5L311.7 843.3L309.2 848.3L303.3 850.0L298.3 849.2L296.7 853.3L298.3 858.3L294.2 862.5L290.8 860.8L288.3 855.0L285.8 850.0L286.7 845.0L285.8 840.0L281.7 837.5L275.0 836.7L270.0 833.3L268.3 828.3L269.2 823.3L271.7 825.0L273.3 821.7L271.7 819.2Z" fill="#90c8e8" fill-rule="nonzero" stroke="#141414" stroke-width="0.6"/>
<path d="M316.7 831.7L320.0 835.0L324.2 839.2L325.8 844.2L323.3 848.3L322.5 853.3L325.8 857.5L321.7 860.0L318.3 859.2L315.8 855.0L314.2 849.2L311.7 843.3L310.8 837.5L313.3 833.3Z" fill="#90c8e8" fill-rule="nonzero" stroke="#141414" stroke-width="0.6"/>
<path d="M279.2 858.3L285.8 857.5L288.3 855.0L290.8 860.8L294.2 862.5L298.3 858.3L296.7 853.3L298.3 849.2L303.3 850.0L309.2 848.3L311.7 843.3L314.2 849.2L315.8 855.0L318.3 859.2L321.7 860.0L325.8 857.5L330.0 856.7L336.7 855.8L341.7 856.7L344.2 852.5L346.7 848.3L349.2 851.7L351.7 858.3L353.3 863.3L356.7 866.7L363.3 870.0L370.0 874.2L375.0 877.5L383.3 878.3L391.7 880.0L400.0 885.0L406.7 888.3L408.3 893.3L408.3 900.0L405.0 908.3L400.0 915.0L396.7 920.0L395.0 926.7L395.0 935.0L393.3 943.3L390.0 951.7L386.7 958.3L380.0 962.5L373.3 965.0L366.7 967.5L363.3 973.3L362.5 980.0L363.3 980.0L361.3 985.3L358.7 990.7L356.0 996.0L352.0 1001.3L349.3 1006.0L349.3 1002.7L346.7 1000.7L342.7 997.3L338.7 994.7L334.0 991.7L335.3 988.0L339.3 982.7L342.7 978.7L343.3 974.7L340.7 972.7L340.0 966.7L336.0 962.7L333.3 957.3L326.7 954.7L326.7 946.7L326.0 940.0L326.7 946.7L325.0 940.0L320.0 935.0L315.8 931.7L315.0 925.0L310.0 921.7L303.3 918.3L298.3 915.0L293.3 908.3L286.7 910.0L281.7 912.5L276.7 910.0L275.0 905.8L269.2 904.2L265.0 900.0L264.2 895.0L268.3 890.0L270.0 886.7L276.7 883.3L276.7 878.3L278.3 875.0L277.5 870.0L278.3 863.3Z" fill="#2f6584" fill-rule="nonzero" stroke="#141414" stroke-width="0.6"/>
<path d="M323.3 848.3L325.8 844.2" fill="none" stroke="#141414" stroke-width="0.6"/>
<path d="M335.8 842.5L336.7 855.8" fill="none" stroke="#141414" stroke-width="0.6"/>
<path d="M276.7 910.0L281.7 912.5L284.2 920.0L283.3 930.0L282.5 936.7L280.8 941.7" fill="none" stroke="#141414" stroke-width="0.6"/>
<path d="M283.3 930.0L286.7 933.3L293.3 931.7L298.3 933.3L303.3 931.7L310.0 933.3L315.0 931.7" fill="none" stroke="#141414" stroke-width="0.6"/>
<path d="M284.0 940.0L286.0 945.3L289.3 953.3L293.3 960.7L290.7 966.7L290.0 973.3L291.3 980.0L288.7 986.7L288.0 993.3L290.0 1000.0L291.3 1006.7L290.7 1013.3L290.7 1020.0L292.7 1026.7L292.7 1033.3L294.7 1040.0L297.3 1046.7L300.0 1053.3L301.3 1060.0L300.7 1066.7L301.3 1073.3L305.3 1077.3L310.7 1080.0L316.0 1081.3" fill="none" stroke="#141414" stroke-width="0.6"/>
<path d="M293.3 960.7L297.3 957.3L302.7 958.0L305.3 960.0L308.0 957.3L310.0 956.0" fill="none" stroke="#141414" stroke-width="0.6"/>
<path d="M326.7 954.7L325.3 948.0L320.0 946.7L312.7 947.3L310.7 950.7L310.0 956.0L312.7 961.3L317.3 965.3L322.7 968.0L326.7 973.3L328.0 978.7L333.3 980.0L338.7 978.0L340.7 972.7" fill="none" stroke="#141414" stroke-width="0.6"/>
<path d="M334.0 991.7L332.0 993.3L331.3 1000.0L332.0 1006.7" fill="none" stroke="#141414" stroke-width="0.6"/>
<path d="M344.0 1078.7L346.7 1078.0L350.7 1078.0L353.3 1078.9L351.3 1080.7L346.7 1081.3Z" fill="#dddddd" fill-rule="nonzero" stroke="#141414" stroke-width="0.6"/>
<path d="M505.0 646.7L506.7 643.3L511.7 641.3L513.3 644.2L517.5 645.0L518.3 648.3L515.8 651.7L511.7 654.2L506.7 655.0L504.2 652.5Z" fill="#dddddd" fill-rule="nonzero" stroke="#141414" stroke-width="0.6"/>
<path d="M520.8 629.2L524.2 626.7L527.5 628.3L530.0 630.8L530.8 634.2L529.2 637.5L533.3 641.7L536.7 646.7L540.8 649.2L542.5 652.5L540.0 655.8L533.3 656.7L526.7 657.5L520.0 660.0L521.7 656.7L525.0 653.3L521.7 652.5L523.3 648.3L526.7 646.7L525.0 643.3L521.7 640.0L520.8 635.8L519.2 632.5Z" fill="#5d98bb" fill-rule="nonzero" stroke="#141414" stroke-width="0.6"/>
<path d="M511.7 640.8L515.8 639.7L519.2 641.7L517.5 644.7L513.3 644.2Z" fill="#5d98bb" fill-rule="nonzero" stroke="#141414" stroke-width="0.6"/>
<path d="M617.9 586.2L619.6 585.4L619.2 583.8L616.7 582.5L613.3 581.7L609.2 581.2L605.0 581.2L600.0 581.7L595.0 582.5L590.8 583.3L587.5 584.2L584.2 585.4L580.8 587.1L577.5 588.8L575.0 590.8L572.1 592.5L571.2 594.6L569.6 597.5L568.3 600.8L566.7 604.2L564.2 606.7L560.0 609.2L555.8 611.2L552.5 613.3L551.2 615.8L551.2 620.0L552.5 624.2L555.0 627.5L559.2 629.6L560.8 629.3L563.3 628.3L565.8 626.7L568.3 625.4L570.4 625.4L570.8 628.3L572.1 631.7L573.3 634.2L575.0 635.8L576.7 636.7L579.2 637.5L583.3 635.8L586.7 633.8L588.3 630.0L589.2 626.7L590.8 624.6L592.9 623.3L593.3 621.2L590.0 619.2L587.9 616.7L587.5 613.8L588.8 610.8L591.2 608.8L594.2 607.9L596.7 607.1L597.1 604.6L598.3 602.1L601.2 600.7L604.2 600.4L606.7 601.2L607.7 602.9L606.7 605.0L604.2 606.7L601.2 607.9L599.2 609.2L598.3 611.7L599.2 614.2L599.6 617.5L600.4 620.0L602.5 621.2L605.8 621.7L610.0 621.2L614.2 620.8L618.3 620.4L622.1 620.0L622.9 621.7L622.5 623.3L619.2 622.9L615.0 622.9L610.8 623.3L606.7 623.8L605.0 623.8L604.2 625.8L605.8 627.5L609.2 628.3L610.8 630.8L610.0 633.3L607.5 634.2L605.8 632.5L604.6 630.8L603.3 633.3L602.5 635.8L602.1 638.3L601.7 640.4L600.0 641.7L600.0 642.5L596.7 642.1L593.3 641.2L590.0 641.7L586.7 642.9L583.3 643.8L581.7 644.6L579.2 643.8L577.5 642.5L575.0 642.1L573.3 642.5L571.7 643.3L569.2 642.5L568.8 640.8L567.5 639.2L567.1 636.7L567.9 634.2L568.3 632.1L566.7 631.2L564.2 632.5L562.5 635.0L562.5 638.3L563.8 641.7L565.0 644.2L564.2 645.8L562.5 646.7L560.0 646.2L557.5 647.5L555.8 650.0L554.2 652.5L551.7 654.2L549.2 655.0L546.7 655.8L544.2 656.7L540.7 657.3L535.3 660.0L532.7 662.0L531.3 664.7L528.0 664.0L526.0 666.0L522.7 666.7L523.3 669.3L528.7 670.0L531.3 672.0L532.7 676.0L533.3 681.3L532.7 686.0L532.0 688.0L527.3 687.7L522.0 687.3L516.7 686.9L511.3 686.7L508.0 688.0L506.3 690.7L507.3 693.3L506.3 697.3L505.3 702.7L504.7 706.7L505.7 710.0L506.7 712.7L510.0 713.1L512.0 712.0L514.0 714.7L516.0 717.3L518.7 716.7L522.0 715.3L526.0 714.7L530.0 713.3L534.0 710.7L536.0 706.7L537.3 702.7L540.0 698.7L542.7 696.0L546.0 693.3L548.7 691.3L550.0 690.0L553.3 688.7L556.7 688.0L559.3 686.7L560.8 685.0L564.2 684.2L568.3 684.6L570.8 685.8L572.5 688.3L575.0 691.2L578.3 694.2L581.7 696.7L585.0 699.2L587.9 701.7L590.0 704.2L591.7 706.2L592.9 707.9L592.1 711.2L594.2 709.2L595.7 707.1L595.8 705.0L595.0 702.5L595.4 700.4L597.1 700.8L599.6 701.7L600.8 700.8L600.0 699.6L597.1 698.3L594.2 696.7L590.8 694.6L587.5 691.7L584.2 688.3L580.8 685.8L578.3 683.3L577.9 680.8L578.8 679.2L580.4 677.9L582.1 678.3L582.9 680.0L585.0 681.7L587.5 684.2L590.0 686.7L593.3 688.3L596.7 690.0L600.0 692.1L602.1 693.8L603.3 695.8L604.2 699.2L605.4 701.7L607.5 704.2L609.2 707.1L611.2 709.6L612.1 712.1L614.2 714.2L616.2 715.4L617.1 713.8L615.8 711.7L617.1 710.4L619.6 710.8L618.8 708.8L616.7 707.1L615.8 705.0L616.7 702.5L619.2 701.7L621.7 700.8L623.3 699.2L625.0 697.9L627.5 698.3L630.0 697.5L632.1 697.9L634.2 698.3L636.7 697.9L637.1 696.2L636.7 695.8L635.0 693.3L633.3 690.8L632.1 688.3L631.7 685.8L632.1 683.3L633.3 680.8L635.0 678.3L636.7 676.7L638.3 675.0L640.4 674.2L641.7 673.3L644.0 674.0L646.7 675.3L650.0 676.7L648.7 678.7L651.3 680.7L654.7 681.3L657.3 679.3L656.0 677.3L653.3 676.7L652.7 674.7L656.0 674.0L660.0 673.3L663.3 672.7L668.0 668.0L655.0 650.0L636.0 632.0L630.0 620.0L632.0 612.0L628.0 604.0L625.0 596.0L621.0 589.0Z" fill="#dddddd" fill-rule="nonzero" stroke="#141414" stroke-width="0.6"/>
<path d="M569.3 639.6L570.8 639.0L571.8 640.2L571.2 641.7L569.8 641.5Z" fill="#dddddd" fill-rule="nonzero" stroke="#141414" stroke-width="0.6"/>
<path d="M572.3 637.1L574.2 636.5L575.8 637.7L575.7 640.0L574.0 640.8L572.7 639.6Z" fill="#dddddd" fill-rule="nonzero" stroke="#141414" stroke-width="0.6"/>
<path d="M592.1 632.1L593.3 628.3L594.6 627.9L594.2 630.8L592.9 633.3Z" fill="#dddddd" fill-rule="nonzero" stroke="#141414" stroke-width="0.6"/>
<path d="M617.9 586.2L619.6 585.4L619.2 583.8L616.7 582.5L613.3 581.7L609.2 581.2L605.0 581.2L600.0 581.7L595.0 582.5L590.8 583.3L587.5 584.2L584.2 585.4L580.8 587.1L577.5 588.8L575.0 590.8L572.1 592.5L571.2 594.6L569.6 597.5L568.3 600.8L566.7 604.2L564.2 606.7L560.0 609.2L555.8 611.2L552.5 613.3L551.2 615.8L551.2 620.0L552.5 624.2L555.0 627.5L559.2 629.6L560.8 629.3L563.3 628.3L565.8 626.7L568.3 625.4L570.4 625.4L570.8 625.0L572.5 623.8L573.3 621.7L574.6 619.2L574.2 616.7L573.3 614.2L572.5 611.7L572.1 609.2L573.3 606.7L575.8 604.2L576.7 601.7L577.5 599.2L579.2 596.7L581.7 594.2L584.2 592.1L586.7 590.0L590.0 588.8L593.3 587.9L595.0 587.1L597.5 587.9L600.0 588.8L602.5 589.6L605.0 588.8L607.5 587.9L610.0 586.2L612.5 587.1L615.0 587.9Z" fill="#5d98bb" fill-rule="nonzero" stroke="#141414" stroke-width="0.6"/>
<path d="M600.0 641.7L601.7 640.4L605.0 640.2L607.5 640.8L608.3 642.3L606.7 643.3L603.3 643.5L600.8 643.3Z" fill="#072c47" fill-rule="nonzero" stroke="#141414" stroke-width="0.6"/>
<path d="M604.2 600.4L603.8 597.5L602.5 594.2L601.7 591.7L600.0 588.8" fill="none" stroke="#141414" stroke-width="0.6"/>
<path d="M606.7 631.2L610.0 630.0L613.3 629.6L616.7 630.0L620.0 629.6L622.5 630.0" fill="none" stroke="#141414" stroke-width="0.6"/>
<path d="M602.1 636.7L605.8 635.8L610.0 636.2L614.2 636.7L618.3 637.5L620.0 639.2L624.2 635.8" fill="none" stroke="#141414" stroke-width="0.6"/>
<path d="M620.0 639.2L618.3 641.7L615.0 643.3L612.5 644.2L610.8 643.8L608.3 642.3" fill="none" stroke="#141414" stroke-width="0.6"/>
<path d="M565.0 643.8L568.3 643.8" fill="none" stroke="#141414" stroke-width="0.6"/>
<path d="M580.4 709.2L583.3 708.8L586.7 708.3L590.0 707.9L590.8 709.2L589.6 712.1L588.3 714.2L585.8 713.3L583.3 712.1L581.2 710.8Z" fill="#dddddd" fill-rule="nonzero" stroke="#141414" stroke-width="0.6"/>
<path d="M565.4 697.5L567.9 696.7L570.0 697.9L570.4 700.8L570.0 704.2L568.3 705.8L566.2 705.4L565.4 702.5L565.0 700.0Z" fill="#dddddd" fill-rule="nonzero" stroke="#141414" stroke-width="0.6"/>
<path d="M566.7 690.0L568.3 689.3L569.6 690.8L569.3 694.2L567.9 695.8L566.7 694.2L566.5 692.1Z" fill="#dddddd" fill-rule="nonzero" stroke="#141414" stroke-width="0.6"/>
<path d="M619.2 719.6L622.5 720.0L625.8 720.8L628.3 721.2L627.5 722.1L624.2 722.1L620.8 721.2Z" fill="#dddddd" fill-rule="nonzero" stroke="#141414" stroke-width="0.6"/>
<path d="M546.7 702.4L548.4 701.9L548.9 703.2L547.3 703.7Z" fill="#dddddd" fill-rule="nonzero" stroke="#141414" stroke-width="0.6"/>
<path d="M550.3 701.3L551.6 701.1L551.9 702.1L550.7 702.4Z" fill="#dddddd" fill-rule="nonzero" stroke="#141414" stroke-width="0.6"/>
<path d="M541.3 705.3L542.3 704.9L542.5 705.9L541.6 706.1Z" fill="#dddddd" fill-rule="nonzero" stroke="#141414" stroke-width="0.6"/>
<path d="M560.8 685.0L560.4 681.7L560.8 678.8L558.3 675.4L559.2 673.3L560.8 671.7L564.2 670.8L567.9 670.8L570.0 671.7" fill="none" stroke="#141414" stroke-width="0.6"/>
<path d="M558.3 675.4L561.7 676.7L564.6 675.4L567.5 674.6L570.4 673.8L570.0 671.7" fill="none" stroke="#141414" stroke-width="0.6"/>
<path d="M560.8 671.7L561.7 669.2L562.5 666.7L561.7 664.2L558.3 662.5L556.7 661.2L555.8 659.2L557.1 656.7L555.8 655.0L554.2 653.8L551.7 653.3L550.0 654.2" fill="none" stroke="#141414" stroke-width="0.6"/>
<path d="M557.1 656.7L558.3 654.2L559.2 650.8L558.8 647.5L560.8 645.4" fill="none" stroke="#141414" stroke-width="0.6"/>
<path d="M556.7 661.2L554.6 660.4L555.0 658.3L555.8 659.2" fill="none" stroke="#141414" stroke-width="0.6"/>
<path d="M582.1 645.0L582.9 648.3L583.8 651.7L583.3 654.2L584.6 656.2L581.7 657.5L578.3 658.8L576.7 660.0L578.3 662.9L580.8 665.0L582.1 665.8L580.0 667.5L579.2 669.6L576.7 670.8L573.3 670.4L570.4 671.7" fill="none" stroke="#141414" stroke-width="0.6"/>
<path d="M584.6 656.2L587.5 657.5L590.8 658.8L594.2 660.0L596.7 662.1L597.5 662.9L600.8 663.8L604.2 663.3L608.3 664.2L609.6 665.8" fill="none" stroke="#141414" stroke-width="0.6"/>
<path d="M582.1 665.8L585.0 666.2L588.3 665.4L591.7 665.8L593.3 666.7L595.4 664.2L597.5 662.9" fill="none" stroke="#141414" stroke-width="0.6"/>
<path d="M593.3 666.7L592.5 669.2L591.7 671.7L590.8 673.3L587.5 674.2L583.3 675.0L580.0 674.2L576.7 672.9L573.3 673.3L570.4 673.8" fill="none" stroke="#141414" stroke-width="0.6"/>
<path d="M593.3 666.7L596.7 667.5L600.0 666.7L604.2 665.8L608.3 667.1L609.6 665.8" fill="none" stroke="#141414" stroke-width="0.6"/>
<path d="M610.8 644.2L612.1 647.5L611.7 650.8L613.3 654.2L614.2 657.5L612.5 660.8L610.8 663.3L609.6 665.8" fill="none" stroke="#141414" stroke-width="0.6"/>
<path d="M613.3 654.2L615.8 653.8L620.0 653.3L625.0 653.8L630.0 654.2L635.0 654.2L636.7 650.8" fill="none" stroke="#141414" stroke-width="0.6"/>
<path d="M609.6 665.8L613.3 668.3L617.5 669.2L621.7 668.3L625.0 667.1L627.5 669.2L630.0 672.5L632.5 674.2L633.3 676.7L635.8 675.8" fill="none" stroke="#141414" stroke-width="0.6"/>
<path d="M625.0 667.1L627.5 666.7L630.0 668.3L632.5 670.8L634.2 673.3L633.3 676.7" fill="none" stroke="#141414" stroke-width="0.6"/>
<path d="M608.3 667.1L607.5 670.0L605.8 673.3L603.3 675.4L600.8 676.2L596.7 676.7L593.3 675.8L590.8 673.3" fill="none" stroke="#141414" stroke-width="0.6"/>
<path d="M600.8 676.2L603.3 678.3L606.7 680.0L610.0 681.7L611.7 684.2L615.0 685.0L619.2 685.8L623.3 685.0L627.5 684.6L631.2 685.0" fill="none" stroke="#141414" stroke-width="0.6"/>
<path d="M583.3 675.0L585.0 677.5L582.1 678.3" fill="none" stroke="#141414" stroke-width="0.6"/>
<path d="M585.0 677.5L588.3 676.7L591.7 677.1L593.3 675.8" fill="none" stroke="#141414" stroke-width="0.6"/>
<path d="M587.5 680.0L590.0 679.2L594.2 679.6L598.3 680.0L600.8 681.7L600.0 685.0L600.8 688.3L602.1 690.0L603.3 692.5" fill="none" stroke="#141414" stroke-width="0.6"/>
<path d="M600.8 681.7L600.0 678.3L600.8 676.2" fill="none" stroke="#141414" stroke-width="0.6"/>
<path d="M611.7 684.2L612.5 687.5L614.2 690.0L615.0 692.5L615.8 695.0L619.2 695.8L622.5 695.0L625.8 695.8L629.2 695.0L632.1 695.8L632.5 697.9" fill="none" stroke="#141414" stroke-width="0.6"/>
<path d="M629.2 695.0L631.7 693.3L635.0 693.3" fill="none" stroke="#141414" stroke-width="0.6"/>
<path d="M603.3 695.8L605.0 694.2L607.5 695.0L608.3 696.7L607.5 700.0L606.7 702.5L608.3 700.8L610.8 697.5L614.2 696.7L615.8 695.0" fill="none" stroke="#141414" stroke-width="0.6"/>
<path d="M607.5 695.0L610.0 693.3L613.3 692.5L615.0 692.5" fill="none" stroke="#141414" stroke-width="0.6"/>
<path d="M602.1 690.0L605.0 690.8L606.7 690.0L610.0 691.7L610.0 693.3" fill="none" stroke="#141414" stroke-width="0.6"/>
<path d="M605.0 690.8L604.2 693.3L605.0 694.2" fill="none" stroke="#141414" stroke-width="0.6"/>
<path d="M507.3 693.3L511.3 692.7L514.0 694.7L514.7 700.0L513.3 705.3L512.0 712.0" fill="none" stroke="#141414" stroke-width="0.6"/>
<path d="M532.0 688.0L536.7 690.0L543.3 691.3L548.7 691.3" fill="none" stroke="#141414" stroke-width="0.6"/>
<path d="M516.0 718.7L520.7 718.0L526.0 717.3L531.3 718.0L536.7 716.7L543.3 715.3L550.0 714.4L556.7 713.7L563.3 713.3L568.7 712.7L571.3 712.7L573.3 714.7L572.7 718.7L574.0 721.3L572.7 724.7L575.3 726.7L577.3 730.7L583.3 730.7L588.7 732.0L592.7 735.3L598.0 738.0L603.3 740.0L607.3 739.3L608.0 735.3L610.0 732.7L615.3 730.7L620.0 732.0L625.3 734.7L631.3 736.0L636.7 738.0L640.7 739.3L644.7 738.0L650.0 736.7L655.0 737.5L653.1 738.8L652.5 742.5L655.0 747.5L658.1 752.5L661.2 757.5L665.0 763.1L667.5 767.5L670.0 772.5L671.2 775.0L673.1 780.0L675.0 785.0L677.5 790.0L679.4 792.5L680.0 796.2L682.5 800.0L686.2 803.8L690.0 807.5L692.5 811.2L695.0 814.4L698.1 816.2L697.5 818.8L701.7 820.8L710.0 820.0L718.3 817.5L724.2 816.7L726.7 819.2L725.0 826.7L721.7 835.0L716.7 843.3L711.7 851.7L705.0 860.0L698.3 868.3L693.3 875.0L688.3 880.0L685.0 885.0L682.5 890.8L681.7 896.7L683.3 903.3L685.0 910.0L686.7 916.7L686.7 923.3L685.8 930.0L683.3 935.0L678.3 940.0L673.3 945.0L668.3 950.0L665.0 955.0L665.0 961.7L663.3 968.3L660.0 975.0L656.7 980.0L653.3 985.0L650.0 990.0L646.7 995.0L643.3 1000.0L640.0 998.0L630.0 1003.5L617.0 1008.5L608.0 1010.5L602.0 1009.0L599.0 1004.0L601.7 1000.0L599.2 991.7L596.7 983.3L594.2 975.0L591.7 966.7L588.3 958.3L585.0 950.0L581.7 941.7L580.0 936.7L580.8 933.3L582.5 926.7L585.0 916.7L586.7 908.3L585.8 900.0L583.3 891.7L582.5 889.2L580.0 885.0L576.7 880.0L572.5 873.3L570.0 869.2L571.7 865.0L572.5 860.0L573.3 855.0L571.7 850.8L568.3 851.7L563.3 851.7L558.3 848.3L555.0 843.3L551.7 840.8L546.7 840.0L541.7 840.8L538.3 842.5L533.3 845.0L528.3 845.8L523.3 845.3L516.7 846.7L510.0 848.3L507.5 847.5L503.3 845.0L499.2 841.7L495.0 838.3L491.7 835.0L489.2 830.8L486.7 826.7L483.3 823.3L482.5 820.0L479.2 820.8L476.7 818.3L475.0 813.3L475.8 808.3L473.3 805.8L475.0 801.7L477.5 798.3L477.5 793.3L475.8 786.7L475.0 780.0L476.7 777.5L480.0 771.7L483.3 765.0L486.7 758.3L490.0 753.3L495.0 750.0L500.0 745.0L505.0 740.0L504.7 733.3L508.7 728.0L513.3 722.7Z" fill="#dddddd" fill-rule="nonzero" stroke="#141414" stroke-width="0.6"/>
<path d="M718.3 916.7L721.7 921.7L722.5 930.0L720.0 938.3L716.7 946.7L713.3 955.0L710.0 963.3L705.0 970.0L700.0 972.5L696.7 970.0L695.0 963.3L695.8 956.7L698.3 950.0L697.5 943.3L700.0 936.7L706.7 931.7L713.3 925.0Z" fill="#dddddd" fill-rule="nonzero" stroke="#141414" stroke-width="0.6"/>
<path d="M577.3 730.7L583.3 730.7L588.7 732.0L592.7 735.3L598.0 738.0L603.3 740.0L607.3 739.3L608.0 735.3L610.0 732.7L615.3 730.7L620.0 732.0L625.3 734.7L626.0 746.7L626.7 760.0L627.3 773.3L627.6 782.4L624.9 784.0L610.0 777.6L594.0 770.7L589.3 772.7L582.0 769.3L579.3 768.0L573.3 760.0L571.3 754.7L572.0 746.7L571.3 741.3L570.0 736.0L573.3 733.3Z" fill="#5d98bb" fill-rule="nonzero" stroke="#141414" stroke-width="0.6"/>
<path d="M539.2 806.7L543.3 803.3L551.7 801.7L552.5 788.3L565.0 779.2L580.0 770.0L582.5 769.3L589.3 772.7L593.5 770.5L594.2 781.7L593.3 791.7L590.0 800.0L587.5 806.7L586.7 810.8L585.0 810.8L578.3 812.5L571.7 813.3L565.0 811.7L558.3 810.0L553.3 811.7L550.0 815.0L545.0 813.3L541.7 810.0Z" fill="#90c8e8" fill-rule="nonzero" stroke="#141414" stroke-width="0.6"/>
<path d="M593.5 770.5L625.0 783.8L624.5 790.0L623.3 801.7L620.0 806.7L618.3 813.3L620.8 820.0L616.7 825.0L610.0 830.0L605.0 833.3L598.3 835.0L593.3 835.8L590.0 830.0L589.2 825.8L593.3 823.3L591.7 818.3L589.2 813.3L586.7 810.8L587.5 806.7L590.0 800.0L593.3 791.7L594.2 781.7Z" fill="#90c8e8" fill-rule="nonzero" stroke="#141414" stroke-width="0.6"/>
<path d="M551.7 840.8L548.3 835.0L549.2 826.7L550.8 818.3L553.3 811.7L558.3 810.0L565.0 811.7L571.7 813.3L578.3 812.5L585.0 810.8L589.2 813.3L590.8 818.3L588.3 823.3L585.0 828.3L581.7 833.3L580.0 838.3L576.7 840.0L573.3 843.3L570.8 848.3L571.7 850.8L568.3 851.7L563.3 851.7L558.3 848.3L555.0 843.3Z" fill="#90c8e8" fill-rule="nonzero" stroke="#141414" stroke-width="0.6"/>
<path d="M580.0 838.3L581.7 833.3L585.0 828.3L588.3 823.3L590.8 818.3L591.7 818.3L593.3 823.3L589.2 825.8L590.0 830.0L593.3 835.8L591.7 841.7L593.3 848.3L596.7 855.0L595.0 857.5L588.3 857.5L581.7 856.7L575.0 857.5L573.3 855.0L571.7 850.8L570.8 848.3L573.3 843.3L576.7 840.0Z" fill="#90c8e8" fill-rule="nonzero" stroke="#141414" stroke-width="0.6"/>
<path d="M573.0 858.0L579.2 857.5L579.5 861.7L573.0 862.2Z" fill="#90c8e8" fill-rule="nonzero" stroke="#141414" stroke-width="0.6"/>
<path d="M572.5 862.5L579.2 861.7L580.0 857.5L588.3 857.5L590.0 861.7L589.2 866.7L590.8 871.7L590.0 876.7L585.0 878.3L581.7 881.7L578.3 881.7L576.7 880.0L572.5 873.3L570.8 868.3Z" fill="#5d98bb" fill-rule="nonzero" stroke="#141414" stroke-width="0.6"/>
<path d="M526.7 822.5L533.3 821.3L538.3 822.0L539.2 828.3L540.8 835.0L541.3 840.8L536.7 843.3L531.7 845.8L527.5 845.0L525.8 840.0L526.7 833.3L527.5 826.7Z" fill="#5d98bb" fill-rule="nonzero" stroke="#141414" stroke-width="0.6"/>
<path d="M473.3 805.8L476.7 800.0L481.7 798.3L486.7 799.2L490.8 803.3L493.3 808.3L495.0 813.3L491.7 815.0L486.7 814.2L482.5 813.3L477.5 814.2L475.0 813.3L475.8 808.3Z" fill="#90c8e8" fill-rule="nonzero" stroke="#141414" stroke-width="0.6"/>
<path d="M605.0 853.3L608.3 846.7L616.7 845.8L626.7 846.7L636.7 845.0L645.0 846.7L650.0 850.0L652.5 857.5L650.0 861.7L648.3 866.7L645.8 873.3L646.7 880.0L645.8 886.7L647.5 893.3L650.0 900.0L646.7 902.5L643.3 906.7L642.5 913.3L645.0 916.7L646.7 921.7L644.2 920.8L640.0 916.7L635.0 915.0L626.7 915.0L625.8 911.7L619.2 912.0L618.3 903.3L617.5 896.7L610.8 895.0L610.0 896.7L599.2 896.7L598.3 890.8L583.3 891.7L582.5 889.2L590.0 885.0L595.0 880.0L600.0 875.0L602.5 868.3L603.3 860.0Z" fill="#5d98bb" fill-rule="nonzero" stroke="#141414" stroke-width="0.6"/>
<path d="M583.3 891.7L598.3 890.8L599.2 896.7L610.0 896.7L610.8 895.0L617.5 896.7L618.3 903.3L619.2 912.0L625.8 911.7L625.8 920.0L619.2 920.8L618.3 928.3L619.2 936.7L623.3 940.0L613.3 939.2L605.0 939.7L596.7 939.2L588.3 938.3L581.7 937.5L580.0 936.7L580.8 933.3L582.5 926.7L585.0 916.7L586.7 908.3L585.8 900.0Z" fill="#2f6584" fill-rule="nonzero" stroke="#141414" stroke-width="0.6"/>
<path d="M581.3 886.3L583.7 885.3L584.3 889.2L582.3 890.0Z" fill="#2f6584" fill-rule="nonzero" stroke="#141414" stroke-width="0.6"/>
<path d="M625.0 830.0L630.0 825.0L638.3 823.3L645.0 825.0L653.3 823.3L658.3 816.7L660.0 825.0L661.7 833.3L665.0 840.0L668.3 845.0L663.3 847.5L656.7 848.3L651.7 850.0L645.0 846.7L640.0 841.7L635.0 836.7L630.0 833.3Z" fill="#90c8e8" fill-rule="nonzero" stroke="#141414" stroke-width="0.6"/>
<path d="M475.7 777.8L489.1 777.2L489.7 772.5L493.2 769.0L493.8 759.1L506.6 758.5L506.6 748.0" fill="none" stroke="#141414" stroke-width="0.6"/>
<path d="M490.8 751.5L499.0 749.8L506.6 748.0L510.7 745.7L515.3 743.3L522.3 741.0L523.5 737.5L529.3 734.0L532.8 731.7L531.7 727.0L530.5 722.3L531.7 720.0" fill="none" stroke="#141414" stroke-width="0.6"/>
<path d="M506.6 753.8L520.0 764.3L534.0 775.4L549.2 787.7L553.3 795.8L552.1 801.7L548.0 804.0L542.2 804.0L538.7 805.8" fill="none" stroke="#141414" stroke-width="0.6"/>
<path d="M513.9 763.4L517.4 801.7L508.3 802.3L501.3 802.8L496.7 803.4L493.8 804.0L492.6 806.3" fill="none" stroke="#141414" stroke-width="0.6"/>
<path d="M549.2 787.7L560.8 783.6L570.2 777.2L579.5 770.2" fill="none" stroke="#141414" stroke-width="0.6"/>
<path d="M538.7 805.8L534.0 806.3L529.3 808.7L524.7 811.0L521.2 814.5L518.8 819.2L520.0 822.7L524.7 825.0L526.4 822.1" fill="none" stroke="#141414" stroke-width="0.6"/>
<path d="M536.3 821.3L541.0 819.2L544.5 816.8L545.7 815.1" fill="none" stroke="#141414" stroke-width="0.6"/>
<path d="M494.9 813.3L499.0 816.8L503.7 815.7L506.0 819.2L507.2 823.8L509.5 822.7L514.2 823.8L518.8 819.2" fill="none" stroke="#141414" stroke-width="0.6"/>
<path d="M477.4 816.8L481.5 817.4L485.0 816.8L487.3 818.6" fill="none" stroke="#141414" stroke-width="0.6"/>
<path d="M487.3 827.3L490.8 825.0L495.5 826.2L497.8 830.8L496.7 834.3L493.8 835.5" fill="none" stroke="#141414" stroke-width="0.6"/>
<path d="M496.7 837.8L499.0 834.9L501.3 832.0L506.0 830.8L508.3 836.7L509.5 847.8" fill="none" stroke="#141414" stroke-width="0.6"/>
<path d="M507.2 823.8L506.0 830.8" fill="none" stroke="#141414" stroke-width="0.6"/>
<path d="M541.0 841.3L540.4 830.8L539.8 822.7L542.2 820.3" fill="none" stroke="#141414" stroke-width="0.6"/>
<path d="M543.9 840.8L543.3 830.8L544.5 822.7L546.8 819.2L549.2 816.8" fill="none" stroke="#141414" stroke-width="0.6"/>
<path d="M476.3 810.1L480.3 809.6L486.2 810.4" fill="none" stroke="#141414" stroke-width="0.6"/>
<path d="M476.3 811.6L480.9 811.2L486.2 811.9" fill="none" stroke="#141414" stroke-width="0.6"/>
<path d="M566.7 713.3L566.0 720.0L564.0 725.3L566.7 730.7L570.0 736.0L571.3 741.3" fill="none" stroke="#141414" stroke-width="0.6"/>
<path d="M571.3 741.3L573.3 733.3L577.3 730.7" fill="none" stroke="#141414" stroke-width="0.6"/>
<path d="M628.5 774.9L670.5 775.2" fill="none" stroke="#141414" stroke-width="0.6"/>
<path d="M627.9 760.0L627.9 782.2" fill="none" stroke="#141414" stroke-width="0.6"/>
<path d="M625.0 783.9L624.4 800.8L619.2 805.5L618.0 812.5L620.3 818.3L621.5 821.8L622.1 823.6L625.0 827.1" fill="none" stroke="#141414" stroke-width="0.6"/>
<path d="M662.9 828.8L665.8 823.0L669.3 816.0L671.7 810.2L672.8 806.7L676.3 805.5L682.2 806.7L688.0 810.2L691.5 814.8L694.4 817.2" fill="none" stroke="#141414" stroke-width="0.6"/>
<path d="M671.7 806.7L672.3 800.8L674.0 795.0" fill="none" stroke="#141414" stroke-width="0.6"/>
<path d="M694.4 817.2L697.3 821.8L702.0 825.3L707.8 830.0L713.7 833.5L706.7 841.7L700.8 846.3L695.0 849.8L690.3 851.0L685.7 849.8L681.0 852.2L676.3 849.8L671.7 848.1L669.3 846.9" fill="none" stroke="#141414" stroke-width="0.6"/>
<path d="M595.3 834.7L600.5 832.3L607.5 830.0L613.3 826.5L618.0 823.0L622.1 823.6" fill="none" stroke="#141414" stroke-width="0.6"/>
<path d="M640.2 846.3L636.7 845.8L630.8 846.3L625.0 846.9L620.3 848.7L615.7 846.9L611.0 845.8L607.5 847.5L606.3 851.0" fill="none" stroke="#141414" stroke-width="0.6"/>
<path d="M651.8 849.8L655.3 851.0L660.0 850.4L664.7 848.7L665.8 853.3L664.7 859.2L663.5 865.0L662.9 869.7L657.7 870.3L651.8 870.3L647.2 869.7" fill="none" stroke="#141414" stroke-width="0.6"/>
<path d="M690.3 851.0L689.8 856.8L689.8 865.0L690.3 872.0L688.0 876.7L685.7 881.3L683.3 886.0" fill="none" stroke="#141414" stroke-width="0.6"/>
<path d="M662.9 869.7L671.7 875.5L677.5 880.2L681.0 883.7L683.3 886.0" fill="none" stroke="#141414" stroke-width="0.6"/>
<path d="M695.6 816.0L692.7 818.3L694.4 817.2" fill="none" stroke="#141414" stroke-width="0.6"/>
<path d="M646.0 872.6L648.9 871.8L651.3 873.8L650.9 879.0L649.5 882.5L646.9 881.9L645.8 877.8Z" fill="#fefbf5" fill-rule="nonzero" stroke="#141414" stroke-width="0.6"/>
<path d="M625.9 912.1L630.0 913.8L634.7 915.0L640.5 916.2L643.4 919.7L646.3 921.4L646.9 918.5L644.0 916.2L642.8 910.3L643.4 904.5L647.5 902.2L650.4 900.4" fill="none" stroke="#141414" stroke-width="0.6"/>
<path d="M613.7 941.8L613.4 957.0L610.2 957.6L609.6 968.7L611.3 976.8L616.0 974.5L620.7 971.0L625.3 972.8L630.0 969.8L634.7 964.0L639.3 960.5L642.8 958.8" fill="none" stroke="#141414" stroke-width="0.6"/>
<path d="M597.3 983.8L600.8 985.0L605.5 986.2L607.8 982.7L609.0 975.7L609.6 968.7" fill="none" stroke="#141414" stroke-width="0.6"/>
<path d="M623.0 939.5L630.0 940.1L632.3 945.3L635.8 951.2L639.3 955.8L642.8 958.8L647.5 959.3L651.0 959.3L654.5 954.7L656.8 950.0L658.0 943.0L657.4 936.0L653.3 931.3L648.7 929.0" fill="none" stroke="#141414" stroke-width="0.6"/>
<path d="M630.0 940.1L634.7 940.7L639.3 937.2L644.0 932.5L648.7 929.0L653.3 926.7L658.6 924.9" fill="none" stroke="#141414" stroke-width="0.6"/>
<path d="M651.0 959.3L652.2 966.3L653.3 972.2L655.7 973.3" fill="none" stroke="#141414" stroke-width="0.6"/>
<path d="M658.6 924.9L660.3 918.5L659.8 912.7L661.5 908.0L663.8 906.8L665.0 911.5L665.6 918.5L667.3 924.3L668.5 930.2L666.2 936.0L665.0 932.5L663.8 926.7L661.5 925.5L658.6 924.9" fill="none" stroke="#141414" stroke-width="0.6"/>
<path d="M665.0 913.8L670.8 914.4L676.7 913.8L682.5 911.5L686.6 909.8" fill="none" stroke="#141414" stroke-width="0.6"/>
<path d="M650.4 900.4L655.7 903.3L659.8 906.8L661.5 908.0" fill="none" stroke="#141414" stroke-width="0.6"/>
<path d="M650.4 900.4L649.3 895.2L647.5 889.3L646.3 884.7L646.9 880.0" fill="none" stroke="#141414" stroke-width="0.6"/>
<path d="M647.5 976.3L648.7 974.3L651.0 973.9L652.4 975.9L651.6 978.2L649.3 978.9Z" fill="#dddddd" fill-rule="nonzero" stroke="#141414" stroke-width="0.6"/>
<path d="M633.7 989.1L635.8 986.4L639.3 985.6L641.7 987.3L641.1 990.3L638.2 992.6L635.3 992.2Z" fill="#dddddd" fill-rule="nonzero" stroke="#141414" stroke-width="0.6"/>
<path d="M595.0 857.5L596.7 855.0L603.3 853.3L605.0 853.3" fill="none" stroke="#141414" stroke-width="0.6"/>
<path d="M590.0 876.7L593.3 873.3L596.7 878.3L600.0 875.0" fill="none" stroke="#141414" stroke-width="0.6"/>
<path d="M636.0 696.0L639.0 696.5L642.0 696.5L644.0 695.5L646.0 694.0L648.0 693.2L650.0 693.0L652.5 692.8L655.0 693.0L657.5 694.0L660.0 695.0L665.0 696.7L670.0 697.1L674.2 696.2L676.7 694.2L676.7 690.8L675.8 689.2L690.0 680.0L700.0 665.0L725.0 660.0L760.0 670.0L900.0 690.0L977.5 688.3L977.5 688.3L975.8 691.7L977.5 695.0L975.8 700.0L976.7 705.0L980.8 709.2L985.0 713.3L987.5 718.3L988.3 722.5L985.0 724.2L980.0 724.2L977.5 720.0L975.8 715.0L972.5 710.8L968.3 710.0L966.7 706.7L963.3 705.0L962.5 701.7L955.0 692.0L938.0 695.0L936.0 715.0L945.0 735.0L940.0 770.0L926.5 781.5L924.0 784.0L923.0 787.0L924.5 790.0L927.0 793.0L930.0 796.0L933.0 799.0L936.0 802.0L938.0 806.0L939.0 810.0L939.5 814.0L938.5 818.0L936.0 821.0L933.0 823.5L930.0 825.0L927.0 826.5L925.5 829.0L924.5 830.0L924.5 827.0L924.0 824.0L922.0 822.5L920.0 821.0L918.0 819.0L916.0 817.0L914.0 815.5L912.0 814.5L910.0 814.0L908.0 812.0L907.0 811.0L906.0 813.0L905.5 817.0L905.0 821.0L904.5 825.0L905.5 828.0L907.0 831.0L909.0 834.5L911.0 837.5L913.0 839.5L914.5 840.0L917.0 843.0L919.0 847.0L920.5 851.0L922.0 855.0L923.5 859.0L923.8 860.5L922.0 860.0L919.5 858.5L917.0 856.5L914.5 854.0L912.0 851.0L910.0 847.0L908.8 843.0L908.0 839.0L906.0 836.0L904.0 833.0L902.0 830.0L901.0 827.0L902.0 825.0L902.5 822.0L901.0 818.0L899.5 814.0L898.0 810.0L896.5 806.0L895.0 802.0L893.5 798.5L892.5 796.0L891.0 798.0L889.0 799.5L887.0 800.5L884.0 800.0L882.5 798.0L882.5 794.0L881.0 790.0L879.0 787.0L876.0 784.0L873.0 780.0L870.0 775.0L868.5 774.0L866.0 774.5L863.0 775.0L860.0 775.5L857.0 776.0L854.0 777.5L852.5 780.0L850.0 784.0L847.0 787.0L843.0 791.0L839.0 795.5L835.0 799.0L832.0 802.0L831.0 805.0L832.0 810.0L832.5 815.0L832.0 820.0L831.5 824.0L830.0 826.5L828.0 829.0L825.5 831.5L823.5 833.0L821.0 830.0L819.0 826.5L817.0 822.0L815.0 817.0L813.0 812.0L811.0 807.0L809.0 802.0L807.0 797.0L805.0 792.0L803.5 787.0L802.0 782.0L801.5 778.0L801.0 775.0L800.0 776.0L799.0 779.0L796.0 780.0L793.0 778.5L790.0 776.0L788.0 773.5L792.0 771.0L789.0 771.5L786.0 770.0L784.0 767.5L784.3 768.6L782.0 766.8L778.5 763.9L773.8 762.8L769.2 762.2L763.3 762.2L773.8 759.4L767.5 760.0L762.5 760.6L757.5 761.2L752.5 761.2L747.5 760.0L742.5 757.5L737.5 755.0L733.8 757.5L728.8 756.2L723.8 753.8L720.0 750.0L716.2 746.2L712.5 743.8L709.4 742.5L710.0 745.6L710.6 748.1L710.0 752.5L712.5 755.0L715.0 756.9L717.5 758.8L719.4 761.2L720.0 762.5L719.4 758.8L721.2 757.5L722.5 760.0L722.2 763.1L723.8 766.2L728.8 767.5L733.8 768.1L736.2 765.0L738.8 761.2L740.0 756.2L740.6 758.8L741.9 761.2L740.6 765.0L742.5 766.2L746.2 767.5L750.0 770.0L753.8 773.8L753.1 778.8L750.0 782.5L747.5 786.2L743.8 790.0L740.0 793.8L736.2 796.2L731.2 797.5L725.0 800.0L717.5 801.9L710.0 803.1L702.5 803.8L695.6 803.1L694.4 800.0L693.8 798.1L691.9 796.2L690.0 792.5L687.5 788.8L685.0 785.0L682.5 781.2L679.4 777.5L676.9 773.8L675.0 770.0L672.5 767.5L670.0 763.8L667.5 760.0L665.0 756.2L663.1 752.5L661.2 747.5L661.2 742.5L660.0 748.1L658.1 750.0L656.9 750.0L655.0 746.9L653.1 743.1L653.1 738.8L655.0 737.5L656.9 738.1L658.8 738.8L660.0 735.0L661.0 730.0L662.1 725.0L663.3 720.8L665.0 717.5L667.1 715.4L668.3 714.6L666.7 714.2L663.3 714.2L660.0 714.0L657.5 714.8L655.0 716.0L652.5 717.2L650.0 717.0L648.0 716.0L646.0 714.5L644.0 714.0L642.5 714.5L641.0 716.0L639.0 716.5L637.0 715.5L634.5 714.5L633.0 713.5L631.0 712.0L630.0 710.0L629.5 708.0L628.0 706.0L626.5 704.0L627.2 702.0L627.0 700.0L628.0 699.5L631.0 698.8L635.0 698.0Z" fill="#dddddd" fill-rule="nonzero" stroke="#141414" stroke-width="0.6"/>
<path d="M700.0 674.2L696.7 676.7L695.0 680.8L696.3 685.8L698.3 690.0L700.0 695.0L701.7 697.5L702.5 701.7L704.2 706.7L706.7 711.7L710.8 714.2L716.7 715.0L721.7 713.3L723.0 708.3L722.5 703.3L720.0 700.0L716.7 699.2L715.0 695.0L713.3 690.8L710.0 689.2L707.5 686.7L706.7 682.5L709.2 680.0L710.8 676.7L708.3 674.2L703.3 673.3Z" fill="#fefbf5" fill-rule="nonzero" stroke="#141414" stroke-width="0.6"/>
<path d="M650.2 722.0L651.5 720.5L653.5 720.0L655.5 719.2L656.5 719.8L654.5 721.5L652.5 723.0L651.0 723.2Z" fill="#dddddd" fill-rule="nonzero" stroke="#141414" stroke-width="0.6"/>
<path d="M832.0 827.0L833.5 826.0L836.0 828.0L838.5 832.0L840.0 836.0L839.5 839.5L837.0 842.0L834.5 842.5L832.5 840.0L831.5 836.0L831.2 831.0Z" fill="#dddddd" fill-rule="nonzero" stroke="#141414" stroke-width="0.6"/>
<path d="M972.0 766.0L974.0 763.0L976.0 762.5L977.5 765.0L977.0 770.0L975.5 774.0L974.5 775.0L973.0 772.0L972.0 769.0Z" fill="#dddddd" fill-rule="nonzero" stroke="#141414" stroke-width="0.6"/>
<path d="M1007.5 680.0L1011.7 679.2L1016.7 682.5L1021.7 684.2L1026.7 681.7L1030.0 678.7L1029.2 682.5L1025.8 686.7L1021.7 690.8L1017.5 693.3L1013.3 692.5L1010.0 690.8L1008.3 686.7Z" fill="#dddddd" fill-rule="nonzero" stroke="#141414" stroke-width="0.6"/>
<path d="M1015.0 698.3L1020.0 699.2L1023.3 703.3L1024.2 708.3L1026.7 713.3L1027.5 718.3L1025.0 721.7L1021.7 722.5L1018.3 725.0L1013.3 726.7L1010.0 724.2L1005.8 725.0L1001.7 725.8L997.5 725.0L995.0 726.7L996.7 722.5L1001.7 720.8L1006.7 719.2L1010.8 716.7L1013.3 711.7L1014.2 706.7L1013.3 701.7Z" fill="#dddddd" fill-rule="nonzero" stroke="#141414" stroke-width="0.6"/>
<path d="M993.3 728.3L997.5 727.5L1000.0 730.0L1000.8 735.0L998.3 737.5L995.0 734.2L992.5 730.8Z" fill="#dddddd" fill-rule="nonzero" stroke="#141414" stroke-width="0.6"/>
<path d="M1003.3 727.5L1008.3 726.7L1010.0 728.3L1005.8 730.0Z" fill="#dddddd" fill-rule="nonzero" stroke="#141414" stroke-width="0.6"/>
<path d="M973.3 710.8L980.8 709.2" fill="none" stroke="#141414" stroke-width="0.6"/>
<path d="M617.9 586.2L620.0 586.7L623.3 587.1L627.5 587.9L631.7 589.2L635.8 590.4L641.7 590.8L648.3 593.3L650.8 596.7L649.2 600.0L645.0 602.5L640.0 602.0L635.8 599.2L631.7 597.5L628.3 598.3L629.2 600.8L633.3 604.2L638.3 606.7L643.3 607.5L647.5 605.8L650.0 602.5L652.5 599.2L655.8 596.7L657.5 591.7L660.0 590.0L663.3 592.5L661.7 596.7L664.2 598.3L670.0 594.2L676.7 590.8L683.3 589.2L690.0 588.3L696.7 587.5L700.0 585.8L706.7 586.7L713.3 587.5L715.0 583.3L713.3 579.2L715.0 575.8L718.3 574.2L723.3 575.8L725.8 580.0L726.7 585.0L728.3 590.0L731.7 593.3L735.0 595.8L737.5 593.3L736.7 588.3L733.3 583.3L730.8 579.2L730.0 576.7L733.3 577.5L738.3 581.7L741.7 585.8L745.0 589.2L749.2 591.7L748.3 588.3L743.3 585.0L740.0 580.8L736.7 578.3L743.3 575.8L750.0 577.5L755.0 575.0L754.2 570.8L755.0 567.5L760.0 565.0L766.7 565.8L773.3 565.0L780.0 563.3L783.3 560.8L783.3 561.7L790.0 560.8L796.7 561.3L803.3 562.5L810.0 563.3L816.7 565.8L820.0 569.2L815.8 571.7L821.7 572.5L830.0 573.3L838.3 574.2L846.7 575.0L851.7 573.3L856.7 575.0L863.3 575.8L868.3 577.5L875.0 579.2L881.7 580.8L885.0 579.2L893.3 580.0L899.2 576.7L906.7 575.8L913.3 576.7L918.3 579.2L925.0 578.3L933.3 580.0L941.7 580.8L950.0 581.7L956.7 582.5L961.7 584.2L966.7 585.8L973.3 585.8L980.0 587.5L986.7 585.8L991.7 586.7L998.3 585.3L1006.7 585.8L1015.0 586.7L1023.3 588.3L1031.7 590.0L1040.0 592.5L1048.3 595.0L1056.7 597.5L1063.3 599.2L1066.7 600.8L1068.3 605.0L1063.3 604.2L1056.7 602.5L1050.0 601.7L1046.7 600.8L1048.3 604.2L1053.3 608.3L1055.0 611.7L1050.0 612.5L1045.0 614.2L1041.7 616.7L1040.8 620.0L1036.7 620.8L1031.7 622.5L1026.7 621.7L1024.2 624.2L1025.8 627.5L1030.0 626.7L1032.5 630.0L1035.8 635.0L1037.5 640.0L1039.2 643.3L1038.3 648.3L1039.2 653.3L1037.5 655.8L1034.2 652.5L1030.8 648.3L1026.7 644.2L1022.5 640.0L1018.3 635.8L1015.0 631.7L1012.5 628.3L1013.3 623.3L1015.8 619.2L1013.3 614.2L1010.8 612.5L1009.2 616.7L1005.0 617.5L1000.0 615.8L995.8 617.5L995.0 622.5L990.0 624.2L981.7 624.2L973.3 624.2L966.7 625.0L961.7 626.7L960.0 631.7L958.3 636.7L957.5 640.0L963.3 641.7L968.3 644.2L975.0 643.3L980.0 645.0L984.2 650.0L987.5 655.0L990.0 660.0L991.7 666.7L992.5 673.3L991.7 680.0L990.0 685.8L986.7 689.2L981.7 690.0L977.5 688.3L975.8 683.3L977.5 676.7L975.8 670.0L971.7 668.3L965.0 669.2L960.0 666.7L953.3 665.0L946.7 660.0L940.0 655.0L935.0 650.0L928.3 648.3L921.7 648.3L917.5 650.8L918.3 656.7L915.0 662.5L910.0 660.0L903.3 660.8L896.7 662.5L890.0 663.3L883.3 660.8L876.7 660.0L870.0 659.2L863.3 656.7L856.7 653.3L851.7 654.2L850.0 657.5L843.3 659.2L836.7 657.5L828.3 660.0L821.7 664.2L817.5 664.2L813.3 662.5L806.7 660.0L800.0 657.5L793.3 655.0L786.7 650.8L780.0 647.5L776.7 644.2L771.7 645.8L765.0 645.0L758.3 643.3L755.0 640.8L750.0 640.0L743.3 641.7L736.7 644.2L730.0 646.7L729.2 650.8L733.3 654.2L728.3 655.8L723.3 657.5L716.7 656.7L710.0 655.0L703.3 655.0L696.7 656.7L691.7 660.0L689.2 664.2L690.8 668.3L695.0 671.7L700.0 674.2L696.7 676.7L695.0 680.8L696.3 685.8L698.3 690.0L700.0 695.0L695.0 695.0L690.0 693.3L685.0 690.8L678.3 690.0L671.7 685.0L666.7 681.7L663.3 679.2L661.3 677.0L664.2 674.2L665.8 672.5L663.3 672.7L666.7 667.5L663.3 664.2L656.7 660.8L650.0 657.5L647.5 655.0L645.0 653.3L641.7 652.1L638.3 650.8L636.7 649.2L637.5 646.7L635.8 644.6L633.3 642.5L630.0 640.8L626.7 639.2L623.3 636.7L621.7 633.3L620.4 630.8L622.1 628.3L621.7 626.7L622.5 623.3L622.9 621.7L622.5 620.0L623.3 617.5L625.8 615.0L626.7 612.5L625.0 610.0L623.3 607.5L623.8 605.0L622.1 602.5L621.2 599.2L620.0 595.8L618.3 592.5L616.7 590.0L615.0 587.9Z" fill="#072c47" fill-rule="nonzero" stroke="#141414" stroke-width="0.6"/>
<path d="M981.7 644.2L985.0 645.0L990.0 651.7L995.0 658.3L1000.0 663.3L1005.0 666.7L1003.3 668.3L1006.7 673.3L1009.2 675.8L1005.8 675.0L1002.5 670.0L998.3 665.0L993.3 659.2L988.3 653.3L984.2 648.3Z" fill="#072c47" fill-rule="nonzero" stroke="#141414" stroke-width="0.6"/>
<path d="M700.0 674.2L695.0 671.7L690.8 668.3L689.2 664.2L691.7 660.0L696.7 656.7L703.3 655.0L710.0 655.0L716.7 656.7L723.3 657.5L728.3 655.8L733.3 654.2L729.2 650.8L730.0 646.7L736.7 644.2L743.3 641.7L750.0 640.0L755.0 640.8L758.3 643.3L765.0 645.0L771.7 645.8L776.7 644.2L780.0 647.5L786.7 650.8L793.3 655.0L800.0 657.5L806.7 660.0L813.3 662.5L817.5 664.2L815.0 668.3L811.7 671.7L810.8 678.3L808.3 683.3L806.7 689.2L803.3 693.3L798.3 695.8L790.0 695.0L785.0 692.5L780.0 690.8L775.0 694.2L770.0 696.7L765.0 695.8L760.0 694.2L753.3 690.8L746.7 688.3L741.7 685.0L735.0 680.8L730.0 679.2L724.2 680.0L723.3 683.3L724.2 689.2L720.0 692.5L715.0 690.8L710.0 689.2L707.5 686.7L706.7 682.5L709.2 680.0L710.8 676.7L708.3 674.2L703.3 673.3Z" fill="#5d98bb" fill-rule="nonzero" stroke="#141414" stroke-width="0.6"/>
<path d="M817.5 664.2L821.7 664.2L828.3 660.0L836.7 657.5L843.3 659.2L850.0 657.5L851.7 654.2L856.7 653.3L863.3 656.7L870.0 659.2L876.7 660.0L883.3 660.8L890.0 663.3L896.7 662.5L903.3 660.8L910.0 660.0L915.0 662.5L914.2 665.0L916.7 668.3L923.3 670.0L928.3 673.3L923.3 675.8L916.7 678.3L910.0 680.0L911.7 683.3L908.3 688.3L900.0 690.0L893.3 693.3L885.0 692.5L876.7 690.8L868.3 688.3L860.0 685.8L851.7 683.3L843.3 681.7L837.5 678.3L835.0 673.3L828.3 670.0L821.7 668.3Z" fill="#90c8e8" fill-rule="nonzero" stroke="#141414" stroke-width="0.6"/>
<path d="M817.5 664.2L821.7 668.3L828.3 670.0L835.0 673.3L837.5 678.3L843.3 681.7L851.7 683.3L860.0 685.8L868.3 688.3L876.7 690.8L885.0 692.5L893.3 693.3L900.0 690.0L908.3 688.3L911.7 683.3L910.0 680.0L916.7 678.3L923.3 675.8L928.3 673.3L923.3 670.0L916.7 668.3L914.2 665.0L915.0 662.5L918.3 656.7L917.5 650.8L921.7 648.3L928.3 648.3L935.0 650.0L940.0 655.0L946.7 660.0L953.3 665.0L960.0 666.7L965.0 669.2L971.7 668.3L975.8 670.0L977.5 676.7L975.8 683.3L977.5 688.3L975.0 691.7L971.7 693.3L966.7 698.3L962.5 701.7L956.7 703.3L954.2 700.8L950.8 698.3L947.5 701.7L943.3 705.0L941.7 706.7L945.8 709.2L950.0 712.5L954.2 710.8L958.3 710.0L955.8 714.2L955.0 718.3L958.3 724.2L963.3 730.0L966.7 735.0L970.0 740.0L970.8 746.7L970.8 748.3L970.0 756.7L967.0 760.0L964.0 763.0L960.0 767.0L956.0 770.0L952.0 773.0L948.0 776.0L944.0 778.0L940.0 780.0L938.0 782.5L936.5 781.5L936.0 779.0L934.0 778.0L930.0 779.5L926.5 781.5L922.0 780.0L919.0 778.0L916.0 775.0L912.0 774.0L908.0 775.0L905.0 777.0L901.0 775.0L898.0 772.0L895.0 768.0L892.0 764.0L890.0 760.0L889.2 763.3L888.3 759.2L886.7 754.2L883.3 750.0L878.3 747.5L873.3 746.7L868.3 750.0L863.3 751.7L858.3 750.8L854.2 751.7L850.0 750.8L843.3 749.2L836.7 746.7L830.0 744.2L824.2 740.8L819.2 737.5L815.8 734.2L815.0 730.0L812.5 725.8L806.7 721.7L803.3 719.2L798.3 716.7L796.7 713.3L793.3 710.0L790.0 705.8L790.8 701.7L795.8 698.3L801.7 695.0L806.7 689.2L808.3 683.3L810.8 678.3L811.7 671.7L815.0 668.3Z" fill="#e1251b" fill-rule="nonzero" stroke="#141414" stroke-width="0.6"/>
<path d="M933.5 787.0L935.0 785.0L938.0 784.0L940.5 784.5L941.5 786.5L940.5 789.0L938.0 790.5L935.5 790.5L934.0 789.0Z" fill="#e1251b" fill-rule="nonzero" stroke="#141414" stroke-width="0.6"/>
<path d="M724.2 694.2L730.8 693.3L734.6 690.4L738.3 692.5L741.7 695.8L746.7 697.9L751.7 700.8L755.8 704.2L760.0 707.5L764.2 710.0L767.5 712.1L771.7 711.7L770.8 708.3L770.0 704.2L769.2 701.7L771.7 700.0L773.3 697.5L776.7 695.8L780.0 695.0L783.3 696.7L785.8 697.9L783.3 699.2L780.0 698.8L777.5 700.4L774.2 701.7L778.3 702.1L782.5 701.2L786.7 702.5L789.2 704.2L790.0 704.2" fill="none" stroke="#141414" stroke-width="0.6"/>
<path d="M771.7 711.7L775.0 712.5L778.3 710.8L780.8 708.3L783.3 710.8L785.8 713.3L789.2 712.9L792.5 712.1L795.4 712.5" fill="none" stroke="#141414" stroke-width="0.6"/>
<path d="M722.5 713.3L726.7 709.2L732.5 708.3L738.3 710.8L743.3 713.3L748.3 716.7L750.0 720.0L755.0 720.0L758.3 717.5L761.7 713.3L765.0 712.5L767.5 712.1" fill="none" stroke="#141414" stroke-width="0.6"/>
<path d="M750.0 720.8L749.2 725.0L750.8 729.2L752.5 733.3L755.0 736.7L754.2 740.8L755.8 744.2L756.7 744.6L761.7 744.2L766.7 743.8L770.8 742.5L773.3 739.2L776.7 736.7L780.0 735.0L782.5 731.7L783.3 727.5L785.8 725.0L786.7 720.8L785.8 717.5L786.7 715.0L789.2 714.2L792.5 713.3L795.4 712.5" fill="none" stroke="#141414" stroke-width="0.6"/>
<path d="M756.7 744.6L757.5 747.5L760.0 749.2L760.8 751.7L761.7 755.0" fill="none" stroke="#141414" stroke-width="0.6"/>
<path d="M796.7 723.3L798.3 726.7L800.0 730.0L802.5 733.3L801.7 737.5L800.0 741.7L798.3 745.0L795.0 747.5L790.8 750.0L787.5 752.5L786.7 755.0L789.2 758.3L792.5 761.7L793.3 765.0L790.8 766.7L786.7 767.5L784.2 767.5" fill="none" stroke="#141414" stroke-width="0.6"/>
<path d="M795.4 712.5L797.5 716.7L796.7 723.3L800.0 721.7L803.3 720.8L806.7 721.7" fill="none" stroke="#141414" stroke-width="0.6"/>
<path d="M817.0 736.5L821.7 738.3L826.3 741.2L831.0 742.9L835.7 744.7L840.3 746.4L845.0 748.2L850.8 749.3L852.0 751.7L847.3 752.3L842.7 751.7L838.0 750.5L833.3 749.3L828.7 747.6L824.0 744.7L820.5 741.2L817.0 736.5" fill="none" stroke="#141414" stroke-width="0.6"/>
<path d="M856.7 750.5L861.3 749.3L866.0 750.5L866.6 752.8L862.5 753.4L857.8 753.1L856.7 750.5" fill="none" stroke="#141414" stroke-width="0.6"/>
<path d="M857.5 760.0L859.0 765.0L860.0 770.0L860.0 775.5" fill="none" stroke="#141414" stroke-width="0.6"/>
<path d="M857.5 760.0L861.0 761.0L865.0 763.0L869.0 764.0L870.0 768.0L869.0 772.0L870.0 773.5" fill="none" stroke="#141414" stroke-width="0.6"/>
<path d="M870.0 768.0L873.0 767.0L875.0 763.0L876.0 759.0L878.0 756.0L880.0 753.0L882.0 750.0" fill="none" stroke="#141414" stroke-width="0.6"/>
<path d="M875.0 781.5L876.0 778.0L875.0 774.0L874.0 770.0L875.0 763.0" fill="none" stroke="#141414" stroke-width="0.6"/>
<path d="M906.0 777.5L904.0 780.0L902.0 781.5L900.0 782.5" fill="none" stroke="#141414" stroke-width="0.6"/>
<path d="M904.5 785.0L906.0 789.0L907.0 793.0" fill="none" stroke="#141414" stroke-width="0.6"/>
<path d="M906.0 777.5L908.0 780.0L910.0 783.0L913.0 785.0L914.0 788.0L917.0 789.0L919.0 792.0L921.0 795.0L923.0 798.0L926.0 801.0L927.0 804.0L926.0 807.0L924.5 804.0" fill="none" stroke="#141414" stroke-width="0.6"/>
<path d="M913.0 785.0L916.0 783.0L919.0 784.0L922.0 780.0" fill="none" stroke="#141414" stroke-width="0.6"/>
<path d="M914.0 815.5L917.0 814.0L920.0 812.0L923.0 811.0L926.0 807.0L929.0 810.0L931.0 814.0L930.0 818.0L927.0 820.0L926.0 824.0L925.5 829.0" fill="none" stroke="#141414" stroke-width="0.6"/>
<path d="M924.0 807.0L926.0 807.0" fill="none" stroke="#141414" stroke-width="0.6"/>
<path d="M661.8 737.5L665.0 736.0L670.0 737.0L671.5 739.5L670.5 742.0L667.0 744.5L663.5 746.0L661.5 748.0L661.0 744.0L661.2 740.0Z" fill="#fefbf5" fill-rule="nonzero" stroke="none" stroke-width="0.6"/>
<path d="M900.0 782.5L902.5 783.0L904.5 785.0L906.0 789.0L907.0 793.0L910.0 792.5L914.0 792.0L917.0 793.5L919.0 796.0L921.0 798.5L923.0 801.0L924.5 804.0L924.0 807.0L920.0 808.0L917.0 809.0L915.0 811.0L914.5 814.0L914.0 815.5L912.0 814.5L910.0 814.0L908.0 812.0L907.0 811.0L906.0 813.0L905.5 817.0L905.0 821.0L904.5 825.0L905.5 828.0L907.0 831.0L909.0 834.5L911.0 837.5L913.0 839.5L914.5 840.0L912.0 840.5L909.5 840.0L908.0 839.0L906.0 836.0L904.0 833.0L902.0 830.0L901.0 827.0L902.0 825.0L902.5 822.0L902.2 818.0L902.0 814.0L900.5 810.0L899.0 806.0L897.5 802.0L896.0 798.0L894.5 794.0L893.5 790.0L894.0 786.5L896.5 784.0Z" fill="#90c8e8" fill-rule="nonzero" stroke="#141414" stroke-width="0.6"/>
<path d="M908.0 839.0L909.5 840.0L912.0 840.5L914.5 840.0L917.0 843.0L919.0 847.0L920.5 851.0L922.0 855.0L923.5 859.0L923.8 860.5L922.0 860.0L919.5 858.5L917.0 856.5L914.5 854.0L912.0 851.0L910.0 847.0L908.8 843.0Z" fill="#072c47" fill-rule="nonzero" stroke="#141414" stroke-width="0.6"/>
<path d="M944.5 861.0L946.0 862.5L949.0 862.0L952.0 861.0L955.0 860.0L958.0 860.5L961.0 859.5L963.0 857.0L964.5 854.0L966.5 851.0L969.0 849.5L972.0 848.5L972.5 851.0L973.5 855.0L975.0 859.0L976.5 862.0L975.0 865.0L973.0 868.0L972.0 872.0L971.0 876.0L967.5 880.0L965.0 882.5L961.7 880.8L958.3 880.0L953.3 879.2L948.3 876.7L945.0 872.5L942.0 869.0L941.0 865.0L942.0 862.0Z" fill="#90c8e8" fill-rule="nonzero" stroke="#141414" stroke-width="0.6"/>
<path d="M944.5 859.0L946.0 857.5L949.0 856.0L953.0 854.5L957.0 852.5L960.0 850.0L962.0 847.0L964.0 844.0L966.5 841.0L969.0 838.0L970.5 837.5L972.0 840.0L975.0 842.0L978.0 844.0L979.0 845.0L977.5 847.0L975.0 848.0L972.0 848.5L969.0 849.5L966.5 851.0L964.5 854.0L963.0 857.0L961.0 859.5L958.0 860.5L955.0 860.0L952.0 861.0L949.0 862.0L946.0 862.5L944.5 861.0Z" fill="#072c47" fill-rule="nonzero" stroke="#141414" stroke-width="0.6"/>
<path d="M890.5 845.0L893.0 844.0L896.0 845.0L899.0 847.0L902.0 850.0L905.0 853.0L908.0 856.0L911.0 858.5L914.0 860.5L917.0 862.0L920.0 864.0L922.0 866.0L923.0 869.0L925.0 872.0L928.0 875.0L930.0 878.0L930.0 883.3L929.2 889.2L925.8 890.0L921.7 886.7L916.7 881.7L911.0 876.0L909.0 872.0L906.0 868.0L903.0 864.0L900.0 860.0L897.0 856.0L894.0 852.0L891.5 848.0Z" fill="#90c8e8" fill-rule="nonzero" stroke="#141414" stroke-width="0.6"/>
<path d="M969.5 834.0L970.5 831.5L973.0 828.5L975.5 825.5L977.5 822.0L979.0 818.0L980.0 816.2L980.2 818.0L979.5 821.0L978.0 824.0L976.0 827.0L973.5 830.0L971.0 833.0Z" fill="#dddddd" fill-rule="nonzero" stroke="#141414" stroke-width="0.6"/>
<path d="M977.5 790.0L980.0 789.0L983.0 790.0L984.5 793.0L985.0 797.0L984.5 800.0L983.5 803.0L985.0 806.0L987.0 808.0L990.0 808.5L993.5 809.0L994.0 810.5L991.0 811.0L988.0 810.5L986.0 810.0L984.5 812.0L983.0 813.0L981.5 811.0L980.0 808.0L978.5 805.0L977.0 802.0L976.2 799.0L977.0 795.0L977.2 792.0Z" fill="#dddddd" fill-rule="nonzero" stroke="#141414" stroke-width="0.6"/>
<path d="M979.6 780.0L980.4 779.8L980.6 780.8L979.8 781.0Z" fill="#dddddd" fill-rule="nonzero" stroke="#141414" stroke-width="0.6"/>
<path d="M979.6 786.0L980.6 785.8L980.8 787.0L979.8 787.2Z" fill="#dddddd" fill-rule="nonzero" stroke="#141414" stroke-width="0.6"/>
<path d="M928.3 892.5L933.3 891.3L940.0 892.5L946.7 894.2L953.3 895.8L958.3 897.5L961.7 900.0L960.0 902.5L955.0 901.7L948.3 900.8L941.7 899.2L935.0 897.5L930.0 895.8Z" fill="#90c8e8" fill-rule="nonzero" stroke="#141414" stroke-width="0.6"/>
<path d="M963.3 900.8L968.3 900.3L973.3 900.8L976.7 901.7L975.8 903.3L970.8 903.7L965.8 903.3Z" fill="#90c8e8" fill-rule="nonzero" stroke="#141414" stroke-width="0.6"/>
<path d="M980.0 901.3L986.7 900.8L993.3 900.3L996.7 901.3L991.7 902.5L985.0 903.0Z" fill="#90c8e8" fill-rule="nonzero" stroke="#141414" stroke-width="0.6"/>
<path d="M977.5 905.8L981.7 905.3L983.3 907.5L980.0 908.7Z" fill="#90c8e8" fill-rule="nonzero" stroke="#141414" stroke-width="0.6"/>
<path d="M993.3 908.3L996.7 905.0L1001.7 902.5L1006.7 900.8L1007.5 902.5L1003.3 905.0L999.2 907.5L995.8 909.7Z" fill="#90c8e8" fill-rule="nonzero" stroke="#141414" stroke-width="0.6"/>
<path d="M980.0 868.3L981.7 864.2L985.0 861.7L990.0 860.8L996.7 861.3L1000.0 860.0L1001.3 861.7L996.7 864.2L991.7 865.0L986.7 865.0L985.8 868.3L990.0 870.0L994.2 870.0L993.3 872.0L988.3 872.5L986.7 875.0L989.2 880.0L991.7 885.0L990.8 888.3L988.3 886.7L985.8 881.7L984.2 878.3L983.3 883.3L982.5 889.2L980.0 888.3L979.7 881.7L978.3 875.0Z" fill="#90c8e8" fill-rule="nonzero" stroke="#141414" stroke-width="0.6"/>
<path d="M1010.0 858.3L1012.5 856.7L1013.3 861.7L1015.0 865.0L1012.5 868.3L1010.8 865.0L1011.7 862.5Z" fill="#90c8e8" fill-rule="nonzero" stroke="#141414" stroke-width="0.6"/>
<path d="M1004.2 880.0L1006.7 879.2L1008.3 880.8L1005.8 882.0Z" fill="#90c8e8" fill-rule="nonzero" stroke="#141414" stroke-width="0.6"/>
<path d="M1010.8 878.7L1016.7 878.0L1021.7 879.7L1020.8 881.3L1015.0 880.8Z" fill="#90c8e8" fill-rule="nonzero" stroke="#141414" stroke-width="0.6"/>
<path d="M1023.3 870.8L1027.5 868.3L1033.3 869.2L1036.7 872.5L1035.0 875.0L1038.3 876.7L1043.3 874.2L1048.3 872.5L1053.3 874.2L1059.2 877.5L1066.7 880.0L1073.3 883.3L1078.2 887.6L1083.6 890.8L1081.4 894.1L1079.3 896.3L1082.5 899.5L1086.8 903.8L1091.2 907.1L1093.3 909.9L1089.0 909.3L1084.7 907.1L1080.3 903.8L1074.9 901.7L1069.5 900.6L1065.2 902.8L1063.3 904.2L1058.3 904.7L1053.3 902.5L1048.3 900.0L1046.7 896.7L1050.0 893.3L1046.7 890.0L1041.7 886.7L1036.7 883.3L1031.7 881.7L1028.3 878.3L1026.7 875.0Z" fill="#90c8e8" fill-rule="nonzero" stroke="#141414" stroke-width="0.6"/>
<path d="M1059.2 877.5L1058.7 904.7" fill="none" stroke="#141414" stroke-width="0.6"/>
<path d="M1084.7 889.8L1091.2 890.4L1097.7 888.7L1103.1 884.3L1104.6 886.1L1099.8 890.4L1092.3 892.6L1085.8 891.9Z" fill="#90c8e8" fill-rule="nonzero" stroke="#141414" stroke-width="0.6"/>
<path d="M1108.5 888.7L1111.8 889.8L1113.9 895.2L1111.1 894.7Z" fill="#90c8e8" fill-rule="nonzero" stroke="#141414" stroke-width="0.6"/>
<path d="M1116.1 896.3L1120.4 898.4L1122.6 901.7L1119.3 901.2Z" fill="#90c8e8" fill-rule="nonzero" stroke="#141414" stroke-width="0.6"/>
<path d="M1123.7 900.6L1128.0 903.8L1129.1 906.4L1125.9 904.9Z" fill="#90c8e8" fill-rule="nonzero" stroke="#141414" stroke-width="0.6"/>
<path d="M1131.3 906.0L1134.5 909.3L1132.4 910.3Z" fill="#90c8e8" fill-rule="nonzero" stroke="#141414" stroke-width="0.6"/>
<path d="M940.6 1007.8L946.0 1001.3L947.1 992.7L945.6 981.8L944.9 973.2L947.1 966.7L950.3 960.2L956.8 954.8L965.5 950.4L974.2 947.2L981.8 942.8L986.1 937.4L991.5 933.1L995.8 928.8L1001.3 925.5L1006.7 924.4L1011.0 926.6L1014.3 922.3L1017.5 917.9L1022.9 915.8L1027.3 914.2L1032.7 916.8L1038.1 917.9L1040.3 920.1L1037.0 923.3L1034.8 927.7L1038.1 930.9L1043.5 934.2L1048.9 937.4L1053.3 938.5L1055.4 933.1L1057.6 925.5L1059.1 917.9L1060.8 913.6L1063.0 912.5L1064.7 917.9L1066.3 925.5L1069.5 930.9L1070.6 937.4L1071.7 943.9L1076.0 949.3L1079.3 954.8L1081.4 960.2L1084.7 965.6L1087.9 971.0L1088.6 977.5L1086.8 985.1L1083.6 992.7L1079.3 999.2L1074.9 1004.6L1069.5 1010.0L1063.0 1015.4L1056.5 1019.8L1050.0 1021.9L1043.5 1024.1L1038.1 1027.3L1032.7 1025.6L1027.3 1025.2L1022.9 1023.0L1021.4 1018.7L1022.9 1012.2L1021.8 1007.8L1023.6 1003.5L1020.8 1004.6L1017.5 1008.9L1013.2 1010.0L1011.0 1005.7L1008.8 1001.3L1004.5 998.7L998.0 998.1L991.5 998.7L985.0 1000.3L978.5 1002.4L972.0 1005.2L965.5 1007.8L959.0 1009.6L952.5 1011.1L946.0 1011.7L941.7 1010.0Z" fill="#90c8e8" fill-rule="nonzero" stroke="#141414" stroke-width="0.6"/>
<path d="M1026.2 1045.8L1027.3 1039.3L1029.4 1035.6L1034.8 1035.6L1040.3 1036.4L1038.1 1040.3L1033.8 1044.2L1029.4 1046.8Z" fill="#90c8e8" fill-rule="nonzero" stroke="#141414" stroke-width="0.6"/>
<path d="M1141.0 1008.3L1143.2 1010.0L1144.3 1015.4L1147.5 1020.8L1152.9 1021.9L1154.0 1024.1L1149.7 1027.3L1144.3 1029.5L1139.9 1031.7L1136.7 1034.9L1133.4 1037.1L1130.2 1038.2L1129.1 1034.9L1133.4 1031.7L1134.5 1027.3L1137.8 1025.2L1141.0 1020.8L1141.5 1014.3Z" fill="#dddddd" fill-rule="nonzero" stroke="#141414" stroke-width="0.6"/>
<path d="M1125.9 1034.3L1129.1 1036.0L1128.0 1039.3L1122.6 1042.5L1117.2 1045.8L1110.7 1049.0L1104.2 1052.3L1097.7 1056.6L1091.2 1059.8L1086.4 1061.6L1085.8 1058.8L1089.0 1055.1L1095.5 1052.3L1102.0 1049.0L1108.5 1045.8L1115.0 1042.5L1120.4 1038.2Z" fill="#dddddd" fill-rule="nonzero" stroke="#141414" stroke-width="0.6"/>
<path d="M19.0 903.0L20.0 902.4L20.6 903.2L19.6 904.0Z" fill="#dddddd" fill-rule="nonzero" stroke="#141414" stroke-width="0.6"/>
<path d="M23.0 908.0L24.0 907.6L24.4 908.6L23.4 909.0Z" fill="#dddddd" fill-rule="nonzero" stroke="#141414" stroke-width="0.6"/>
<path d="M3.0 926.4L4.2 926.2L4.4 927.2L3.2 927.4Z" fill="#dddddd" fill-rule="nonzero" stroke="#141414" stroke-width="0.6"/>
<path d="M5.0 933.0L6.4 932.8L6.6 934.0L5.2 934.0Z" fill="#dddddd" fill-rule="nonzero" stroke="#141414" stroke-width="0.6"/>
<path d="M11.4 934.6L12.6 934.6L12.8 935.6L11.6 935.6Z" fill="#dddddd" fill-rule="nonzero" stroke="#141414" stroke-width="0.6"/>
<path d="M22.4 942.4L23.6 942.4L23.6 943.4L22.4 943.4Z" fill="#dddddd" fill-rule="nonzero" stroke="#141414" stroke-width="0.6"/>
<path d="M36.2 943.0L37.4 943.0L37.4 944.0L36.2 944.0Z" fill="#dddddd" fill-rule="nonzero" stroke="#141414" stroke-width="0.6"/>
<path d="M33.0 952.4L34.0 952.4L34.0 953.4L33.0 953.4Z" fill="#dddddd" fill-rule="nonzero" stroke="#141414" stroke-width="0.6"/>
<path d="M1186.2 988.0L1187.4 988.0L1187.4 989.0L1186.2 989.0Z" fill="#dddddd" fill-rule="nonzero" stroke="#141414" stroke-width="0.6"/>
<path d="M1182.6 991.4L1183.8 991.4L1183.8 992.4L1182.6 992.4Z" fill="#dddddd" fill-rule="nonzero" stroke="#141414" stroke-width="0.6"/>
<path d="M472.5 749.5L474.0 749.0L474.5 750.2L473.0 750.8Z" fill="#dddddd" fill-rule="nonzero" stroke="#141414" stroke-width="0.6"/>
<path d="M476.5 750.5L478.0 750.0L478.4 751.0L477.0 751.6Z" fill="#dddddd" fill-rule="nonzero" stroke="#141414" stroke-width="0.6"/>
<path d="M481.0 750.0L482.6 749.4L483.0 750.4L481.4 751.0Z" fill="#dddddd" fill-rule="nonzero" stroke="#141414" stroke-width="0.6"/>
<path d="M486.0 746.5L487.0 745.0L488.0 745.4L487.0 747.4Z" fill="#dddddd" fill-rule="nonzero" stroke="#141414" stroke-width="0.6"/>
<path d="M697.0 914.5L698.0 914.0L698.4 915.0L697.4 915.4Z" fill="#dddddd" fill-rule="nonzero" stroke="#141414" stroke-width="0.6"/>
<path d="M700.0 917.0L701.0 916.6L701.4 917.6L700.4 918.0Z" fill="#dddddd" fill-rule="nonzero" stroke="#141414" stroke-width="0.6"/>
<path d="M703.0 919.5L704.0 919.0L704.4 920.0L703.4 920.4Z" fill="#dddddd" fill-rule="nonzero" stroke="#141414" stroke-width="0.6"/>
<path d="M878.4 811.5L879.4 811.0L879.6 817.0L878.6 817.4Z" fill="#dddddd" fill-rule="nonzero" stroke="#141414" stroke-width="0.6"/>
<path d="M878.6 819.0L879.6 819.0L879.4 822.0L878.6 822.0Z" fill="#dddddd" fill-rule="nonzero" stroke="#141414" stroke-width="0.6"/>
<path d="M883.0 832.0L884.0 831.6L884.4 833.0L883.4 833.4Z" fill="#dddddd" fill-rule="nonzero" stroke="#141414" stroke-width="0.6"/>
<path d="M884.0 836.5L885.0 836.2L885.2 837.4L884.2 837.6Z" fill="#dddddd" fill-rule="nonzero" stroke="#141414" stroke-width="0.6"/>
<path d="M311.0 794.0L312.0 794.0L312.0 795.2L311.0 795.2Z" fill="#dddddd" fill-rule="nonzero" stroke="#141414" stroke-width="0.6"/>
<path d="M311.6 798.0L312.6 798.0L312.6 799.2L311.6 799.2Z" fill="#dddddd" fill-rule="nonzero" stroke="#141414" stroke-width="0.6"/>
<path d="M312.0 802.5L313.0 802.5L313.0 803.6L312.0 803.6Z" fill="#dddddd" fill-rule="nonzero" stroke="#141414" stroke-width="0.6"/>
<path d="M312.0 807.0L313.0 807.0L313.0 808.2L312.0 808.2Z" fill="#dddddd" fill-rule="nonzero" stroke="#141414" stroke-width="0.6"/>
<path d="M311.4 811.5L312.4 811.5L312.4 812.6L311.4 812.6Z" fill="#dddddd" fill-rule="nonzero" stroke="#141414" stroke-width="0.6"/>
<path d="M310.6 816.0L311.6 816.0L311.6 817.2L310.6 817.2Z" fill="#dddddd" fill-rule="nonzero" stroke="#141414" stroke-width="0.6"/>
<path d="M309.5 820.5L310.6 820.5L310.6 821.6L309.5 821.6Z" fill="#dddddd" fill-rule="nonzero" stroke="#141414" stroke-width="0.6"/>
<path d="M306.0 823.5L309.0 823.0L309.4 825.0L306.4 825.4Z" fill="#dddddd" fill-rule="nonzero" stroke="#141414" stroke-width="0.6"/>
<path d="M620.0 702.0L621.4 701.6L621.8 703.0L620.4 703.4Z" fill="#dddddd" fill-rule="nonzero" stroke="#141414" stroke-width="0.6"/>
<path d="M623.0 706.0L624.2 705.6L624.6 707.0L623.4 707.4Z" fill="#dddddd" fill-rule="nonzero" stroke="#141414" stroke-width="0.6"/>
<path d="M619.0 709.0L620.2 708.6L620.6 710.0L619.4 710.4Z" fill="#dddddd" fill-rule="nonzero" stroke="#141414" stroke-width="0.6"/>
<path d="M625.0 711.0L626.2 710.6L626.6 712.0L625.4 712.4Z" fill="#dddddd" fill-rule="nonzero" stroke="#141414" stroke-width="0.6"/>
<path d="M622.0 714.0L623.2 713.6L623.6 715.0L622.4 715.4Z" fill="#dddddd" fill-rule="nonzero" stroke="#141414" stroke-width="0.6"/>
<path d="M628.0 716.5L629.4 716.0L629.8 717.4L628.4 717.8Z" fill="#dddddd" fill-rule="nonzero" stroke="#141414" stroke-width="0.6"/>
<path d="M631.5 719.0L633.0 718.6L633.4 720.0L631.9 720.4Z" fill="#dddddd" fill-rule="nonzero" stroke="#141414" stroke-width="0.6"/>
<circle cx="711.5" cy="752.4" r="51.8" fill="#17dfe6" fill-opacity="0.56" stroke="none"/>
<path d="M661.5 748.0L663.5 746.0L667.0 744.5L670.5 742.0L671.5 739.5L673.5 737.0L675.5 735.5L680.0 737.0L685.0 739.5L690.0 742.0L695.0 744.5L700.0 747.0L704.5 749.5L708.5 750.0L710.0 751.0L711.0 753.0L713.0 755.5L715.0 758.0L717.0 760.0L719.0 762.0L720.5 764.5L722.0 767.0L724.0 768.0L726.0 769.0L729.0 770.0L733.0 771.0L737.0 772.0L738.5 775.0L738.0 779.0L737.0 783.0L733.0 786.0L729.0 788.5L727.0 790.0L723.0 791.0L719.0 791.5L715.0 792.5L712.0 795.0L710.0 796.5L706.0 795.5L702.0 795.0L698.0 795.0L695.5 796.5L694.0 798.5L692.5 797.0L691.0 794.0L689.0 791.0L687.0 788.0L685.0 785.0L683.0 782.0L681.0 779.0L679.0 776.0L678.0 773.0L676.0 770.0L674.0 767.0L672.0 764.0L670.0 761.0L668.0 758.0L666.0 755.0L664.0 752.0L662.5 750.0Z" fill="#072c47" fill-rule="nonzero" stroke="#141414" stroke-width="0.6"/>
<path d="M675.5 735.5L674.5 732.0L676.0 728.0L678.0 725.0L680.0 721.0L681.0 717.0L683.0 714.0L687.0 712.5L691.0 713.5L694.0 716.5L695.0 720.0L697.0 723.0L698.0 727.0L701.0 730.0L704.0 734.0L706.0 737.5L708.5 741.0L710.0 744.0L709.0 747.0L708.5 750.0L704.5 749.5L700.0 747.0L695.0 744.5L690.0 742.0L685.0 739.5L680.0 737.0Z" fill="#2f6584" fill-rule="nonzero" stroke="#141414" stroke-width="0.6"/>
<path d="M708.5 750.0L709.0 747.0L710.0 744.5L711.5 746.0L712.0 748.5L711.0 750.5L710.0 751.0Z" fill="#2f6584" fill-rule="nonzero" stroke="#141414" stroke-width="0.6"/>
<path d="M721.8 763.5L723.0 762.0L724.2 763.5L724.0 766.5L722.5 767.2L721.6 765.5Z" fill="#5d98bb" fill-rule="nonzero" stroke="#141414" stroke-width="0.6"/>
<path d="M726.0 769.0L729.0 770.0L733.0 771.0L737.0 772.0L738.0 769.0L739.5 766.0L740.5 763.0L739.5 761.5L738.0 763.5L736.0 766.0L733.0 768.0L730.0 768.5Z" fill="#2f6584" fill-rule="nonzero" stroke="#141414" stroke-width="0.6"/>
<path d="M740.5 763.0L743.0 765.0L746.0 767.0L749.0 769.0L752.0 772.0L754.0 775.0L753.0 778.0L751.0 781.0L749.0 784.0L747.0 786.0L744.0 789.0L741.0 792.0L738.0 794.5L735.0 796.5L732.0 797.5L730.0 794.0L727.0 790.0L729.0 788.5L733.0 786.0L737.0 783.0L738.0 779.0L738.5 775.0L737.0 772.0L738.0 769.0L739.5 766.0Z" fill="#2f6584" fill-rule="nonzero" stroke="#141414" stroke-width="0.6"/>
<path d="M739.5 759.0L740.5 758.0L741.2 760.0L740.5 761.5L739.5 761.0Z" fill="#2f6584" fill-rule="nonzero" stroke="#141414" stroke-width="0.6"/>
<path d="M668.3 714.6L672.5 713.3L676.7 712.5L680.8 711.7L685.0 710.8L690.0 707.5L689.2 702.5L686.7 700.0L685.0 696.7L680.8 695.0L676.7 694.2" fill="none" stroke="#141414" stroke-width="0.6"/>
<path d="M685.0 696.7L689.2 695.8L693.3 695.0L696.7 696.7L700.8 695.8" fill="none" stroke="#141414" stroke-width="0.6"/>
<path d="M689.2 702.5L693.3 704.2" fill="none" stroke="#141414" stroke-width="0.6"/>
<path d="M661.8 737.5L665.0 736.0L670.0 737.0L674.5 732.0L675.5 735.5" fill="none" stroke="#141414" stroke-width="0.6"/>
<path d="M662.0 737.0L663.0 733.0L662.0 730.0L663.0 727.0L665.0 725.0" fill="none" stroke="#141414" stroke-width="0.6"/>
<path d="M690.0 705.0L691.0 709.0L691.0 713.5" fill="none" stroke="#141414" stroke-width="0.6"/>
<path d="M681.0 717.0L684.0 714.0L687.0 712.5" fill="none" stroke="#141414" stroke-width="0.6"/>
<path d="M690.0 705.0L694.0 704.0L698.0 705.0L702.0 704.0L705.0 703.0L706.0 702.0" fill="none" stroke="#141414" stroke-width="0.6"/>
<path d="M690.0 705.0L688.0 702.0L685.0 701.0L682.0 699.0L680.0 696.0" fill="none" stroke="#141414" stroke-width="0.6"/>
<path d="M722.0 713.5L726.0 710.0L730.0 708.5L735.0 709.0L740.0 711.0L745.0 714.0L749.0 718.0L750.0 723.0L751.0 730.0L752.0 735.0L754.0 740.0L755.0 745.0L759.0 748.0L760.0 752.0L761.0 755.0" fill="none" stroke="#141414" stroke-width="0.6"/>
<path d="M767.5 760.0L762.5 760.6L757.5 761.2L752.5 761.2L747.5 760.0L742.5 757.5L737.5 755.0L733.8 757.5L728.8 756.2L723.8 753.8L720.0 750.0L716.2 746.2L712.5 743.8L709.4 742.5" fill="none" stroke="#141414" stroke-width="0.6"/>
<path d="M750.0 782.5L747.5 786.2L743.8 790.0L740.0 793.8L736.2 796.2L731.2 797.5L725.0 800.0L717.5 801.9L710.0 803.1L702.5 803.8L695.6 803.1L694.4 800.0L693.8 798.1" fill="none" stroke="#141414" stroke-width="0.6"/>
<path d="M661.2 757.5L665.0 763.1L667.5 767.5L670.0 772.5L671.2 775.0L673.1 780.0L675.0 785.0L677.5 790.0L679.4 792.5L680.0 796.2L682.5 800.0L686.2 803.8" fill="none" stroke="#141414" stroke-width="0.6"/>
<path d="M660.0 735.0L661.0 730.0L662.1 725.0L663.3 720.8L665.0 717.5L667.1 715.4L668.3 714.6" fill="none" stroke="#141414" stroke-width="0.6"/>
<path d="M704.2 706.7L706.7 711.7L710.8 714.2L716.7 715.0L721.7 713.3L723.0 708.3L722.5 703.3L720.0 700.0" fill="none" stroke="#141414" stroke-width="0.6"/>
</g>
<g id="maplabels">
<defs><filter id="glow" x="-40%" y="-40%" width="180%" height="180%"><feGaussianBlur stdDeviation="1.0"/></filter></defs>
<polygon points="838.80,702.60 841.58,711.17 850.59,711.17 843.30,716.46 846.09,725.03 838.80,719.74 831.51,725.03 834.30,716.46 827.01,711.17 836.02,711.17" fill="#ffde00"/>
<polygon points="856.98,703.62 858.75,701.50 857.29,699.16 859.85,700.19 861.62,698.08 861.43,700.83 863.99,701.86 861.31,702.53 861.12,705.29 859.66,702.95" fill="#ffde00"/>
<polygon points="864.54,711.16 867.01,709.93 866.61,707.20 868.54,709.17 871.01,707.94 869.74,710.39 871.67,712.36 868.95,711.90 867.67,714.35 867.26,711.62" fill="#ffde00"/>
<polygon points="864.67,722.98 867.43,722.94 868.24,720.30 869.14,722.91 871.90,722.87 869.69,724.53 870.58,727.14 868.32,725.55 866.11,727.21 866.93,724.57" fill="#ffde00"/>
<polygon points="857.31,730.83 859.86,731.89 861.66,729.79 861.44,732.54 863.99,733.60 861.30,734.24 861.08,737.00 859.64,734.64 856.96,735.28 858.75,733.19" fill="#ffde00"/>
<text x="175.8" y="630.5" font-size="13.4" fill="#0d1424" textLength="43.9" lengthAdjust="spacingAndGlyphs" stroke="#0d1424" stroke-width="0.35">Canada</text>
<text x="189.0" y="643.2" font-size="12.4" fill="#0d1424" font-weight="bold" textLength="17.1" lengthAdjust="spacingAndGlyphs" stroke="#0d1424" stroke-width="0.3">63</text>
<text x="182.5" y="699.5" font-size="13.4" fill="#0d1424" textLength="26.7" lengthAdjust="spacingAndGlyphs" stroke="#0d1424" stroke-width="0.35">U.S.</text>
<text x="187.7" y="712.5" font-size="12.6" fill="#0d1424" font-weight="bold" textLength="16.1" lengthAdjust="spacingAndGlyphs" stroke="#0d1424" stroke-width="0.3">71</text>
<text x="155.0" y="773.0" font-size="10.4" fill="#0d1424" textLength="27.0" lengthAdjust="spacingAndGlyphs" stroke="#0d1424" stroke-width="0.35">Mexico</text>
<text x="161.0" y="782.0" font-size="9.6" fill="#0d1424" font-weight="bold" textLength="15.0" lengthAdjust="spacingAndGlyphs" stroke="#0d1424" stroke-width="0.3">7.5</text>
<text x="275.8" y="835.8" font-size="9.2" fill="#0d1424" textLength="36.2" lengthAdjust="spacingAndGlyphs" stroke="#0d1424" stroke-width="0.35">Venezuela</text>
<text x="290.5" y="845.0" font-size="9.6" fill="#0d1424" font-weight="bold" textLength="15.5" lengthAdjust="spacingAndGlyphs" stroke="#0d1424" stroke-width="0.3">9.9</text>
<text x="253.0" y="851.3" font-size="9.4" fill="#0d1424" textLength="31.2" lengthAdjust="spacingAndGlyphs" stroke="#0d1424" stroke-width="0.35">Colombia</text>
<text x="262.2" y="860.3" font-size="9.6" fill="#0d1424" font-weight="bold" textLength="12.8" lengthAdjust="spacingAndGlyphs" stroke="#0d1424" stroke-width="0.3">54</text>
<text x="208.0" y="862.0" font-size="9.6" fill="#0d1424" textLength="31.2" lengthAdjust="spacingAndGlyphs" stroke="#0d1424" stroke-width="0.35">Ecuador</text>
<text x="217.2" y="871.3" font-size="9.6" fill="#0d1424" font-weight="bold" textLength="13.3" lengthAdjust="spacingAndGlyphs" stroke="#0d1424" stroke-width="0.3">38</text>
<text x="346.0" y="904.3" font-size="12.9" fill="#f2f8fc" textLength="33.5" lengthAdjust="spacingAndGlyphs" stroke="#f2f8fc" stroke-width="0.35">Brazil</text>
<text x="350.0" y="917.9" font-size="13.2" fill="#f2f8fc" font-weight="bold" textLength="25.5" lengthAdjust="spacingAndGlyphs" stroke="#f2f8fc" stroke-width="0.3">262</text>
<text x="532.5" y="590.5" font-size="10.9" fill="#0d1424" textLength="38.2" lengthAdjust="spacingAndGlyphs" stroke="#0d1424" stroke-width="0.35">Norway</text>
<text x="544.5" y="601.5" font-size="10.7" fill="#0d1424" font-weight="bold" textLength="14.8" lengthAdjust="spacingAndGlyphs" stroke="#0d1424" stroke-width="0.3">18</text>
<text x="496.0" y="622.8" font-size="10.6" fill="#0d1424" textLength="16.0" lengthAdjust="spacingAndGlyphs" stroke="#0d1424" stroke-width="0.35">UK</text>
<text x="496.5" y="634.0" font-size="10.7" fill="#0d1424" font-weight="bold" textLength="14.8" lengthAdjust="spacingAndGlyphs" stroke="#0d1424" stroke-width="0.3">12</text>
<text x="789.8" y="608.3" font-size="13.4" fill="#f2f8fc" textLength="39.2" lengthAdjust="spacingAndGlyphs" stroke="#f2f8fc" stroke-width="0.35">Russia</text>
<text x="795.7" y="620.5" font-size="12.4" fill="#f2f8fc" font-weight="bold" textLength="25.6" lengthAdjust="spacingAndGlyphs" stroke="#f2f8fc" stroke-width="0.3">803</text>
<text x="741.0" y="668.5" font-size="10" fill="#0d1424" textLength="45.2" lengthAdjust="spacingAndGlyphs" stroke="#0d1424" stroke-width="0.35">Kazakhstan</text>
<text x="759.2" y="678.0" font-size="10" fill="#0d1424" font-weight="bold" textLength="11.6" lengthAdjust="spacingAndGlyphs" stroke="#0d1424" stroke-width="0.3">15</text>
<text x="895.2" y="722.6" font-size="14.2" fill="#f2f8fc" textLength="33.0" lengthAdjust="spacingAndGlyphs" stroke="#f2f8fc" stroke-width="0.35">Total:</text>
<text x="894.3" y="736.8" font-size="13.6" fill="#f2f8fc" font-weight="bold" textLength="33.7" lengthAdjust="spacingAndGlyphs" stroke="#f2f8fc" stroke-width="0.3">4,057</text>
<text x="927.0" y="839.5" font-size="8.8" fill="#0d1424" textLength="33.2" lengthAdjust="spacingAndGlyphs" stroke="#0d1424" stroke-width="0.35">Malaysia</text>
<text x="934.2" y="848.5" font-size="8.2" fill="#0d1424" font-weight="bold" textLength="17.6" lengthAdjust="spacingAndGlyphs" stroke="#0d1424" stroke-width="0.3">507</text>
<text x="997.0" y="967.8" font-size="11.8" fill="#0d1424" textLength="47.4" lengthAdjust="spacingAndGlyphs" stroke="#0d1424" stroke-width="0.35">Australia</text>
<text x="1011.7" y="978.8" font-size="10.9" fill="#0d1424" font-weight="bold" textLength="18.4" lengthAdjust="spacingAndGlyphs" stroke="#0d1424" stroke-width="0.3">4.8</text>
<text x="588.7" y="752.3" font-size="10.1" fill="#0d1424" textLength="22.2" lengthAdjust="spacingAndGlyphs" stroke="#0d1424" stroke-width="0.35">Libya</text>
<text x="593.7" y="763.0" font-size="9.6" fill="#0d1424" font-weight="bold" textLength="12.9" lengthAdjust="spacingAndGlyphs" stroke="#0d1424" stroke-width="0.3">13</text>
<text x="597.3" y="801.0" font-size="9.6" fill="#0d1424" textLength="19.9" lengthAdjust="spacingAndGlyphs" stroke="#0d1424" stroke-width="0.35">Chad</text>
<text x="598.7" y="810.4" font-size="9.2" fill="#0d1424" font-weight="bold" textLength="15.9" lengthAdjust="spacingAndGlyphs" stroke="#0d1424" stroke-width="0.3">8.7</text>
<text x="554.0" y="826.7" font-size="10" fill="#0d1424" textLength="27.6" lengthAdjust="spacingAndGlyphs" stroke="#0d1424" stroke-width="0.35">Nigeria</text>
<text x="559.7" y="837.3" font-size="9.2" fill="#0d1424" font-weight="bold" textLength="15.3" lengthAdjust="spacingAndGlyphs" stroke="#0d1424" stroke-width="0.3">9.7</text>
<text x="574.0" y="846.4" font-size="9.6" fill="#0d1424" textLength="17.9" lengthAdjust="spacingAndGlyphs" stroke="#0d1424" stroke-width="0.35">CMR</text>
<text x="574.4" y="855.7" font-size="9.2" fill="#0d1424" font-weight="bold" textLength="16.2" lengthAdjust="spacingAndGlyphs" stroke="#0d1424" stroke-width="0.3">9.1</text>
<text x="516.0" y="858.0" font-size="9.6" fill="#0d1424" textLength="24.2" lengthAdjust="spacingAndGlyphs" stroke="#0d1424" stroke-width="0.35">Ghana</text>
<text x="521.4" y="867.3" font-size="9.6" fill="#0d1424" font-weight="bold" textLength="13.6" lengthAdjust="spacingAndGlyphs" stroke="#0d1424" stroke-width="0.3">14</text>
<text x="549.7" y="860.0" font-size="9.6" fill="#0d1424" textLength="17.5" lengthAdjust="spacingAndGlyphs" stroke="#0d1424" stroke-width="0.35">GNQ</text>
<text x="550.4" y="869.3" font-size="9.6" fill="#0d1424" font-weight="bold" textLength="15.9" lengthAdjust="spacingAndGlyphs" stroke="#0d1424" stroke-width="0.3">9.2</text>
<text x="546.0" y="883.3" font-size="9.6" fill="#0d1424" textLength="24.9" lengthAdjust="spacingAndGlyphs" stroke="#0d1424" stroke-width="0.35">Gabon</text>
<text x="551.7" y="892.7" font-size="9.6" fill="#0d1424" font-weight="bold" textLength="12.9" lengthAdjust="spacingAndGlyphs" stroke="#0d1424" stroke-width="0.3">21</text>
<text x="611.6" y="875.3" font-size="9.6" fill="#0d1424" textLength="24.6" lengthAdjust="spacingAndGlyphs" stroke="#0d1424" stroke-width="0.35">Congo</text>
<text x="617.0" y="885.6" font-size="9.2" fill="#0d1424" font-weight="bold" textLength="13.0" lengthAdjust="spacingAndGlyphs" stroke="#0d1424" stroke-width="0.3">47</text>
<text x="590.4" y="919.7" font-size="9.8" fill="#f2f8fc" textLength="27.8" lengthAdjust="spacingAndGlyphs" stroke="#f2f8fc" stroke-width="0.35">Angola</text>
<text x="594.2" y="930.0" font-size="10" fill="#f2f8fc" font-weight="bold" textLength="19.9" lengthAdjust="spacingAndGlyphs" stroke="#f2f8fc" stroke-width="0.3">205</text>
<text x="441.9" y="802.9" font-size="9.8" fill="#0d1424" textLength="31.5" lengthAdjust="spacingAndGlyphs" stroke="#0d1424" stroke-width="0.35">Senegal</text>
<text x="448.0" y="813.4" font-size="9.8" fill="#0d1424" font-weight="bold" textLength="15.9" lengthAdjust="spacingAndGlyphs" stroke="#0d1424" stroke-width="0.3">8.5</text>
<text x="680.0" y="725.5" font-size="10.2" fill="#f2f8fc" textLength="17.7" lengthAdjust="spacingAndGlyphs" stroke="#f2f8fc" stroke-width="0.35">Iraq</text>
<text x="680.2" y="734.5" font-size="8.6" fill="#f2f8fc" font-weight="bold" textLength="17.1" lengthAdjust="spacingAndGlyphs" stroke="#f2f8fc" stroke-width="0.3">453</text>
<text x="694.5" y="743.5" font-size="5.8" fill="#f2f8fc" textLength="13.7" lengthAdjust="spacingAndGlyphs" stroke="#f2f8fc" stroke-width="0.2">KWT</text>
<text x="695.2" y="749.8" font-size="5.8" fill="#f2f8fc" font-weight="bold" textLength="13.1" lengthAdjust="spacingAndGlyphs" stroke="#f2f8fc" stroke-width="0.3">114</text>
<text x="669.0" y="760.5" font-size="10.2" fill="#f2f8fc" textLength="48.2" lengthAdjust="spacingAndGlyphs" stroke="#f2f8fc" stroke-width="0.35">Saudi Arabia</text>
<text x="685.7" y="770.0" font-size="8.6" fill="#f2f8fc" font-weight="bold" textLength="16.6" lengthAdjust="spacingAndGlyphs" stroke="#f2f8fc" stroke-width="0.3">568</text>
<text x="722.5" y="758.0" font-size="5.8" fill="#f2f8fc" textLength="12.2" lengthAdjust="spacingAndGlyphs" stroke="#f2f8fc" stroke-width="0.2">QAT</text>
<text x="723.7" y="765.5" font-size="6.4" fill="#f2f8fc" font-weight="bold" textLength="9.1" lengthAdjust="spacingAndGlyphs" stroke="#f2f8fc" stroke-width="0.3">73</text>
<text x="722.8" y="772.8" font-size="5.6" fill="#f2f8fc" textLength="12.4" lengthAdjust="spacingAndGlyphs" stroke="#f2f8fc" stroke-width="0.2">UAE</text>
<text x="722.5" y="779.2" font-size="6" fill="#f2f8fc" font-weight="bold" textLength="13.3" lengthAdjust="spacingAndGlyphs" stroke="#f2f8fc" stroke-width="0.3">263</text>
<text x="756.9" y="775.0" font-size="8.5" fill="#0d1424" textLength="22.6" lengthAdjust="spacingAndGlyphs" stroke="#0d1424" stroke-width="0.35">Oman</text>
<text x="759.0" y="784.3" font-size="10" fill="#0d1424" font-weight="bold" textLength="17.3" lengthAdjust="spacingAndGlyphs" stroke="#0d1424" stroke-width="0.3">301</text>
<circle cx="774.2" cy="610" r="11.1" fill="#c9a2f2" opacity="0.8" filter="url(#glow)"/>
<circle cx="774.2" cy="610" r="10.0" fill="#150732" stroke="#c8a0ee" stroke-width="0.9"/>
<text transform="translate(774.2 615.3) scale(0.95 1)" font-size="15.0" fill="#fff" text-anchor="middle" stroke="#fff" stroke-width="0.35">1</text>
<circle cx="655.5" cy="760.5" r="10.1" fill="#c9a2f2" opacity="0.8" filter="url(#glow)"/>
<circle cx="655.5" cy="760.5" r="9" fill="#150732" stroke="#c8a0ee" stroke-width="0.9"/>
<text transform="translate(655.5 765.3) scale(0.95 1)" font-size="13.5" fill="#fff" text-anchor="middle" stroke="#fff" stroke-width="0.35">2</text>
<circle cx="955" cy="818.5" r="10.6" fill="#c9a2f2" opacity="0.8" filter="url(#glow)"/>
<circle cx="955" cy="818.5" r="9.5" fill="#150732" stroke="#c8a0ee" stroke-width="0.9"/>
<text transform="translate(955.0 823.6) scale(0.95 1)" font-size="14.2" fill="#fff" text-anchor="middle" stroke="#fff" stroke-width="0.35">3</text>
<circle cx="666" cy="726.5" r="9.9" fill="#c9a2f2" opacity="0.8" filter="url(#glow)"/>
<circle cx="666" cy="726.5" r="8.8" fill="#150732" stroke="#c8a0ee" stroke-width="0.9"/>
<text transform="translate(666.0 731.2) scale(0.95 1)" font-size="13.2" fill="#fff" text-anchor="middle" stroke="#fff" stroke-width="0.35">4</text>
<circle cx="768.6" cy="756.3" r="9.1" fill="#c9a2f2" opacity="0.8" filter="url(#glow)"/>
<circle cx="768.6" cy="756.3" r="8.0" fill="#150732" stroke="#c8a0ee" stroke-width="0.9"/>
<text transform="translate(768.6 760.6) scale(0.95 1)" font-size="12.0" fill="#fff" text-anchor="middle" stroke="#fff" stroke-width="0.35">5</text>
<circle cx="712.5" cy="774" r="8.3" fill="#c9a2f2" opacity="0.8" filter="url(#glow)"/>
<circle cx="712.5" cy="774" r="7.2" fill="#150732" stroke="#c8a0ee" stroke-width="0.9"/>
<text transform="translate(712.5 777.8) scale(0.95 1)" font-size="10.8" fill="#fff" text-anchor="middle" stroke="#fff" stroke-width="0.35">6</text>
<circle cx="332.1" cy="906.1" r="11.1" fill="#c9a2f2" opacity="0.8" filter="url(#glow)"/>
<circle cx="332.1" cy="906.1" r="10.0" fill="#150732" stroke="#c8a0ee" stroke-width="0.9"/>
<text transform="translate(332.1 911.4) scale(0.95 1)" font-size="15.0" fill="#fff" text-anchor="middle" stroke="#fff" stroke-width="0.35">7</text>
<circle cx="576.1" cy="922.4" r="10.3" fill="#c9a2f2" opacity="0.8" filter="url(#glow)"/>
<circle cx="576.1" cy="922.4" r="9.2" fill="#150732" stroke="#c8a0ee" stroke-width="0.9"/>
<text transform="translate(576.1 927.3) scale(0.95 1)" font-size="13.8" fill="#fff" text-anchor="middle" stroke="#fff" stroke-width="0.35">8</text>
<circle cx="685.5" cy="744.5" r="7.9" fill="#c9a2f2" opacity="0.8" filter="url(#glow)"/>
<circle cx="685.5" cy="744.5" r="6.8" fill="#150732" stroke="#c8a0ee" stroke-width="0.9"/>
<text transform="translate(685.5 748.1) scale(0.95 1)" font-size="10.2" fill="#fff" text-anchor="middle" stroke="#fff" stroke-width="0.35">9</text>
<circle cx="719.2" cy="745" r="8.1" fill="#c9a2f2" opacity="0.8" filter="url(#glow)"/>
<circle cx="719.2" cy="745" r="7" fill="#150732" stroke="#c8a0ee" stroke-width="0.9"/>
<text transform="translate(719.2 748.1) scale(0.85 1)" font-size="8.8" fill="#fff" text-anchor="middle" stroke="#fff" stroke-width="0.35">10</text>
<text x="736.7" y="808.6" font-size="9.6" fill="#1b1b78" textLength="68.3" lengthAdjust="spacingAndGlyphs" stroke="#1b1b78" stroke-width="0.25">Source of more than</text>
<text x="730.0" y="820.3" font-size="9.6" fill="#1b1b78" textLength="81.2" lengthAdjust="spacingAndGlyphs" stroke="#1b1b78" stroke-width="0.25">half of China oil Imports</text>
<rect x="984.6" y="812.5" width="126" height="38.2" rx="3.2" ry="3.2" fill="#fefcf7" stroke="#111" stroke-width="1"/>
<text x="987.8" y="823.9" font-size="8.2" fill="#111" textLength="119.2" lengthAdjust="spacingAndGlyphs" stroke="#111" stroke-width="0.15">Malaysia is not a significant oil producer</text>
<text x="987.4" y="834.8" font-size="8.2" fill="#111" textLength="119.8" lengthAdjust="spacingAndGlyphs" stroke="#111" stroke-width="0.15">or exporter; it's likely  that Iran's oil is</text>
<text x="1000.2" y="845.7" font-size="8.2" fill="#111" textLength="94.2" lengthAdjust="spacingAndGlyphs" stroke="#111" stroke-width="0.15">being declared as Malaysian.</text>
</g>
<g id="footer">
<text x="63.0" y="1168.3" font-size="17.2" fill="#111" textLength="185.8" lengthAdjust="spacingAndGlyphs">Source: Customs of of China</text>
<text x="351.2" y="1168.6" font-size="17.2" fill="#111" textLength="279.5" lengthAdjust="spacingAndGlyphs">Research and visualization: Ehsan Soltani</text>
<text transform="translate(732.0 1169.2) scale(0.93 1)" font-size="18" fill="#111" textLength="172.9" lengthAdjust="spacing">www.econovis.net</text>
<g id="xlogo"><circle cx="943.6" cy="1162" r="13.0" fill="none" stroke="#1a1a1a" stroke-width="1.1"/><path d="M935.8 1155.0 L940.2 1155.0 L951.4 1169.0 L947.0 1169.0 Z" fill="none" stroke="#1a1a1a" stroke-width="1.3" stroke-linejoin="miter"/><path d="M950.4 1155.0 L944.6 1161.1 M942.6 1162.9 L936.8 1169.0" fill="none" stroke="#1a1a1a" stroke-width="1.7"/></g>
<text x="961.0" y="1168.2" font-size="18" fill="#111" textLength="120.6" lengthAdjust="spacingAndGlyphs">@econovisuals</text>
<g id="evlogo"><circle cx="1126" cy="1162" r="17.4" fill="#0b1a33"/><text x="1126.0" y="1171.5" font-size="27" fill="#e3a43a" font-weight="bold" text-anchor="middle" textLength="21.5" lengthAdjust="spacingAndGlyphs" stroke="#e3a43a" stroke-width="1.1" stroke-linejoin="miter">EV</text></g>
</g>
</svg>
</body>
</html>
